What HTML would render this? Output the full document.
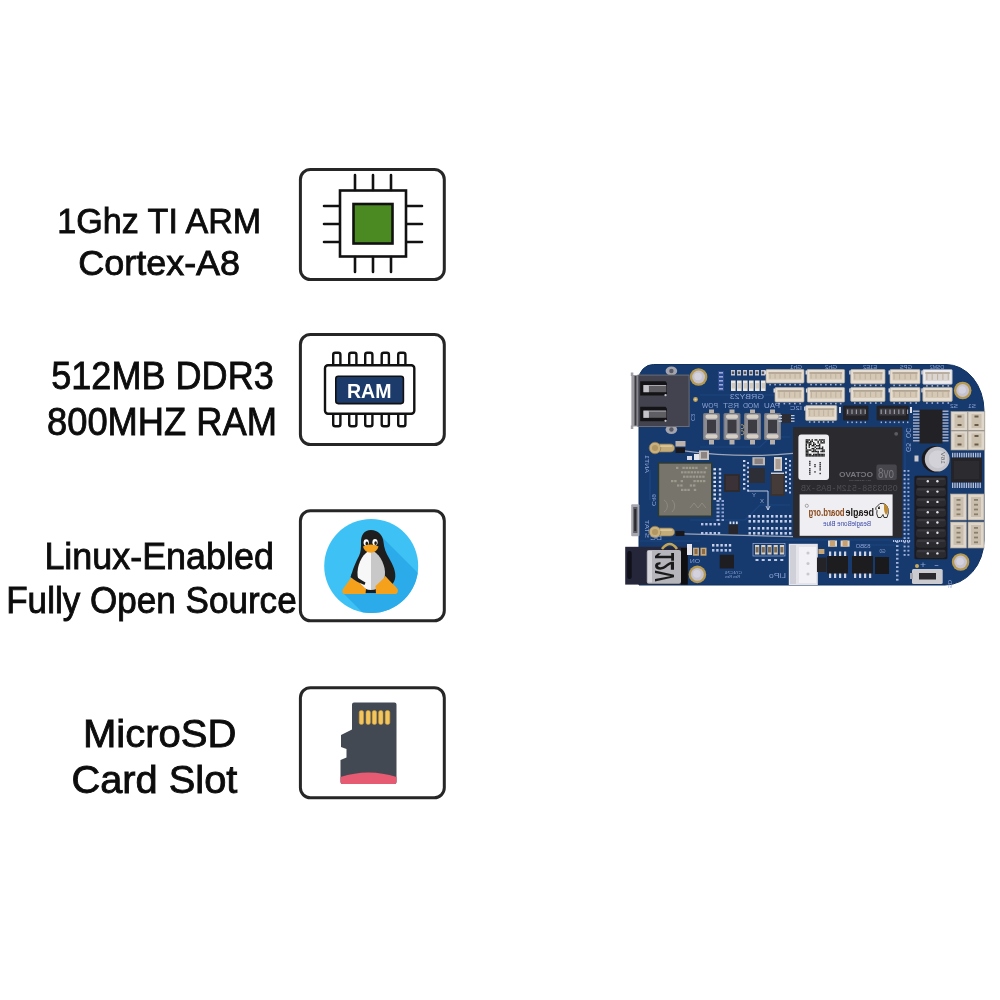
<!DOCTYPE html>
<html><head><meta charset="utf-8">
<style>
html,body{margin:0;padding:0;background:#fff;}
body{width:1000px;height:1000px;position:relative;overflow:hidden;}
svg{position:absolute;left:0;top:0;will-change:transform;}
</style></head><body>
<svg width="1000" height="1000" viewBox="0 0 1000 1000">
 <!-- feature text -->
 <g font-family="Liberation Sans" fill="#0c0c0c" stroke="#0c0c0c" stroke-width="0.85">
  <text transform="translate(57.3,233.1) scale(0.9480,1)" font-size="35.97">1Ghz TI ARM</text>
  <text transform="translate(78.2,274.6) scale(1.0000,1)" font-size="35.97">Cortex-A8</text>
  <text transform="translate(51.2,389.3) scale(0.9276,1)" font-size="38.91">512MB DDR3</text>
  <text transform="translate(47.0,435.2) scale(0.9408,1)" font-size="38.61">800MHZ RAM</text>
  <text transform="translate(44.4,569.3) scale(0.9847,1)" font-size="36.46">Linux-Enabled</text>
  <text transform="translate(6.2,613.4) scale(0.9622,1)" font-size="36.46">Fully Open Source</text>
  <text transform="translate(82.9,747.4) scale(1.0327,1)" font-size="38.81">MicroSD</text>
  <text transform="translate(71.5,793.3) scale(1.0255,1)" font-size="38.81">Card Slot</text>
 </g>
 <!-- boxes -->
 <g fill="none" stroke="#262626" stroke-width="3">
  <rect x="300.4" y="169.4" width="143.9" height="110.2" rx="10"/>
  <rect x="300.4" y="334.5" width="143.9" height="110.1" rx="10"/>
  <rect x="300.4" y="510.7" width="143.9" height="110.1" rx="10"/>
  <rect x="300.4" y="687.7" width="143.9" height="110.1" rx="10"/>
 </g>
 <!-- CPU icon -->
 <g stroke="#111" stroke-width="2.6" fill="none" stroke-linecap="round">
  <rect x="340" y="190.5" width="66" height="66" fill="#fff"/>
  <rect x="353.5" y="204" width="39" height="39.5" fill="#4b8a22"/>
  <path d="M355 175V190M373 175V190M391 175V190M355 257V272M373 257V272M391 257V272M324 206H339M324 224H339M324 242H339M407 206H422M407 224H422M407 242H422"/>
 </g>
 <!-- RAM icon -->
 <g stroke="#111" stroke-width="2.4" fill="#fff">
  <rect x="333.2" y="352.7" width="7.2" height="16" rx="2"/>
  <rect x="349.2" y="352.7" width="7.2" height="16" rx="2"/>
  <rect x="365.2" y="352.7" width="7.2" height="16" rx="2"/>
  <rect x="381.7" y="352.7" width="7.2" height="16" rx="2"/>
  <rect x="398.2" y="352.7" width="7.2" height="16" rx="2"/>
  <rect x="333.2" y="410" width="7.2" height="16.3" rx="2"/>
  <rect x="349.2" y="410" width="7.2" height="16.3" rx="2"/>
  <rect x="365.2" y="410" width="7.2" height="16.3" rx="2"/>
  <rect x="381.7" y="410" width="7.2" height="16.3" rx="2"/>
  <rect x="398.2" y="410" width="7.2" height="16.3" rx="2"/>
  <rect x="325" y="365.2" width="89.3" height="48.6" rx="3"/>
  <rect x="335.8" y="376.2" width="67.6" height="27.4" rx="2.5" fill="#1c3a6a" stroke-width="1.6"/>
 </g>
 <text x="347" y="397.6" font-family="Liberation Sans" font-weight="bold" font-size="20.5" fill="#fff" textLength="44.5" lengthAdjust="spacingAndGlyphs">RAM</text>

 <!-- Linux icon -->
 <defs><clipPath id="cc"><circle cx="371.2" cy="566" r="47"/></clipPath></defs>
 <circle cx="371.2" cy="566" r="47" fill="#3ec2f5"/>
 <path clip-path="url(#cc)" d="M380,535 L470,625 L434,684 L344,594 Z" fill="#2babea"/>
 <g>
  <path d="M371,530 C378,530 383,535 383.5,542 C384,548 386,553 389,558 C393,565 396.5,572 395,579 C393,586 386,592.5 376,593 L366,593 C356,592.5 350,586 351,578 C352,570 356,562 359,556 C361,552 361,547 361,542 C361,535 364,530 371,530 Z" fill="#1e1e1e"/>
  <path d="M371,550 C364,552 358,562 357.5,572 C357,583 363,590 371,590 Z" fill="#f7f7f7"/>
  <path d="M371,550 C378,552 384.5,562 385,572 C385.5,583 379,590 371,590 Z" fill="#c8c8c8"/>
  <ellipse cx="366.2" cy="542.6" rx="2.6" ry="3.4" fill="#fff"/>
  <ellipse cx="375" cy="542.3" rx="2.6" ry="3.4" fill="#fff"/>
  <ellipse cx="366.8" cy="543.4" rx="1.3" ry="1.9" fill="#1a1a1a"/>
  <ellipse cx="375.6" cy="543.1" rx="1.3" ry="1.9" fill="#1a1a1a"/>
  <path d="M363,546.5 Q370.5,542.5 378.5,546.5 Q377,552.5 370.5,552.8 Q364.5,552.5 363,546.5 Z" fill="#f5a11c"/>
  <path d="M353,575 C356,580 362,585 366,589 L365.5,594 L344.5,594 C342.5,594 341.8,591 343,589 Z" fill="#f5a11c"/>
  <path d="M385.5,576 C389,581 395,585 397.5,589 C398.5,591 397.5,594 395.5,594 L376,594 L375.5,586 C379,583 383,579 385.5,576 Z" fill="#f5a11c"/>
  <path d="M352,573 C356,577 361,580 365.5,582.5 L364.5,585 C359,583 354,580 350.5,577 Z" fill="#1e1e1e"/>
 </g>
 <!-- SD icon -->
 <path d="M354,702.5 L394.5,702.5 Q396.5,702.5 396.5,704.5 L396.5,782 Q396.5,784 394.5,784 L342.5,784 Q340.5,784 340.5,782 L340.5,760 L346.5,757.5 L346.5,749 L341,747 L341,735 L352,729.5 L352,704.5 Q352,702.5 354,702.5 Z" fill="#434953"/>
 <path d="M340.5,777 Q368.5,768 396.5,777 L396.5,782 Q396.5,784 394.5,784 L342.5,784 Q340.5,784 340.5,782 Z" fill="#e65b72"/>
 <g fill="#f2c55e" stroke="#c99a35" stroke-width="0.6">
  <rect x="359.2" y="710.5" width="4.4" height="14" rx="2"/>
  <rect x="366" y="710.5" width="4.4" height="14" rx="2"/>
  <rect x="372.2" y="710.5" width="4.4" height="14" rx="2"/>
  <rect x="378.6" y="710.5" width="4.4" height="14" rx="2"/>
  <rect x="385.2" y="710.5" width="4.6" height="14" rx="2"/>
 </g>
<g id="board">
<path d="M656,364.5 L946,364.5 A38 46 0 0 1 984,410.5 L984,540 A39 45 0 0 1 945,585 L639,585 L639,379 A14.5 14.5 0 0 1 653.5,364.5 Z" fill="#163a6e" stroke="#10305e" stroke-width="1"/>
<g fill="none" stroke="#1f4a86" stroke-width="1.2" opacity="0.8">
<path d="M700,395 H790 M700,447 L760,447 L770,437 H790 M690,520 H745 L760,505 H790 M720,500 V515 M650,470 V500 M860,545 H905 M905,430 V540 M770,540 H900 M640,541 H700"/>
</g>
<circle cx="698.60" cy="377.00" r="8.80" fill="#b79a52"/>
<circle cx="698.60" cy="377.00" r="6.40" fill="#c6c3cf"/>
<circle cx="698.10" cy="376.50" r="3.80" fill="#d4d2dc"/>
<circle cx="962.70" cy="390.50" r="8.80" fill="#b79a52"/>
<circle cx="962.70" cy="390.50" r="6.40" fill="#c6c3cf"/>
<circle cx="962.20" cy="390.00" r="3.80" fill="#d4d2dc"/>
<circle cx="697.40" cy="574.40" r="8.80" fill="#b79a52"/>
<circle cx="697.40" cy="574.40" r="6.40" fill="#c6c3cf"/>
<circle cx="696.90" cy="573.90" r="3.80" fill="#d4d2dc"/>
<circle cx="960.60" cy="562.00" r="8.80" fill="#b79a52"/>
<circle cx="960.60" cy="562.00" r="6.40" fill="#c6c3cf"/>
<circle cx="960.10" cy="561.50" r="3.80" fill="#d4d2dc"/>
<ellipse cx="671.4" cy="371" rx="5.8" ry="4.5" fill="#a4a4ae"/>
<ellipse cx="671.4" cy="429.5" rx="5.8" ry="4.5" fill="#a4a4ae"/>
<circle cx="671.40" cy="371.00" r="2.20" fill="#5a5a66"/>
<circle cx="671.40" cy="429.50" r="2.20" fill="#5a5a66"/>
<rect x="630.80" y="372.50" width="2.50" height="3.50" fill="#a0a0a8"/>
<rect x="630.80" y="425.50" width="2.50" height="3.50" fill="#a0a0a8"/>
<rect x="631.40" y="375.00" width="7.00" height="51.50" fill="#9a9aa0"/>
<rect x="634.50" y="376.00" width="2.00" height="49.50" fill="#3a3a40"/>
<rect x="637.60" y="374.60" width="52.00" height="52.40" fill="#6c6c72"/>
<rect x="638.60" y="375.60" width="50.00" height="50.40" fill="#42434e"/>
<path d="M640.2,381.2 H665.5 L667,383.2 V393.6 L665.5,395.6 H640.2 Z" fill="#141416"/>
<rect x="643.40" y="385.00" width="23.00" height="7.20" fill="#5e5e63"/>
<rect x="649.00" y="385.00" width="17.00" height="1.00" fill="#a8a8ae"/>
<rect x="643.40" y="385.00" width="5.50" height="7.20" fill="#c4c4ca"/>
<circle cx="665.50" cy="395.20" r="1.10" fill="#c8c8cc"/>
<path d="M640.2,406.8 H665.5 L667,408.8 V419.2 L665.5,421.2 H640.2 Z" fill="#141416"/>
<rect x="643.40" y="410.60" width="23.00" height="7.20" fill="#5e5e63"/>
<rect x="649.00" y="410.60" width="17.00" height="1.00" fill="#a8a8ae"/>
<rect x="643.40" y="410.60" width="5.50" height="7.20" fill="#c4c4ca"/>
<circle cx="665.50" cy="420.80" r="1.10" fill="#c8c8cc"/>
<circle cx="695.50" cy="399.50" r="2.40" fill="#c2a25a"/>
<circle cx="695.50" cy="399.50" r="1.10" fill="#e0d0a0"/>
<text transform="translate(691.00,414.00) rotate(90) scale(-1,1)" x="-7.00" y="0" font-family="Liberation Sans" font-weight="normal" font-size="6.00" fill="#8fa3d4" textLength="7.0" lengthAdjust="spacingAndGlyphs">C3</text>
<rect x="731.00" y="370.00" width="4.00" height="5.50" fill="#c9c9d2"/>
<rect x="731.80" y="371.50" width="2.40" height="2.50" fill="#53535c"/>
<rect x="731.00" y="380.50" width="4.60" height="10.50" fill="#ebe6de"/>
<rect x="731.50" y="383.00" width="3.60" height="5.50" fill="#d2cabe"/>
<rect x="737.00" y="370.00" width="4.00" height="5.50" fill="#c9c9d2"/>
<rect x="737.80" y="371.50" width="2.40" height="2.50" fill="#53535c"/>
<rect x="737.00" y="380.50" width="4.60" height="10.50" fill="#ebe6de"/>
<rect x="737.50" y="383.00" width="3.60" height="5.50" fill="#d2cabe"/>
<rect x="743.00" y="370.00" width="4.00" height="5.50" fill="#c9c9d2"/>
<rect x="743.80" y="371.50" width="2.40" height="2.50" fill="#53535c"/>
<rect x="743.00" y="380.50" width="4.60" height="10.50" fill="#ebe6de"/>
<rect x="743.50" y="383.00" width="3.60" height="5.50" fill="#d2cabe"/>
<rect x="749.00" y="370.00" width="4.00" height="5.50" fill="#c9c9d2"/>
<rect x="749.80" y="371.50" width="2.40" height="2.50" fill="#53535c"/>
<rect x="749.00" y="380.50" width="4.60" height="10.50" fill="#ebe6de"/>
<rect x="749.50" y="383.00" width="3.60" height="5.50" fill="#d2cabe"/>
<rect x="755.00" y="370.00" width="4.00" height="5.50" fill="#c9c9d2"/>
<rect x="755.80" y="371.50" width="2.40" height="2.50" fill="#53535c"/>
<rect x="755.00" y="380.50" width="4.60" height="10.50" fill="#ebe6de"/>
<rect x="755.50" y="383.00" width="3.60" height="5.50" fill="#d2cabe"/>
<rect x="761.00" y="370.00" width="4.00" height="5.50" fill="#c9c9d2"/>
<rect x="761.80" y="371.50" width="2.40" height="2.50" fill="#53535c"/>
<rect x="761.00" y="380.50" width="4.60" height="10.50" fill="#ebe6de"/>
<rect x="761.50" y="383.00" width="3.60" height="5.50" fill="#d2cabe"/>
<text transform="translate(730.00,399.00) rotate(0) scale(-1,1)" x="-34.00" y="0" font-family="Liberation Sans" font-weight="normal" font-size="6.50" fill="#8fa3d4" textLength="34.0" lengthAdjust="spacingAndGlyphs">GRBY23</text>
<rect x="718.00" y="371.00" width="6.00" height="20.00" fill="#2f4f95" opacity="0.80"/>
<rect x="719.00" y="372.00" width="4.00" height="1.60" fill="#9aaad6"/>
<rect x="719.00" y="376.00" width="4.00" height="1.60" fill="#9aaad6"/>
<rect x="719.00" y="380.00" width="4.00" height="1.60" fill="#9aaad6"/>
<rect x="719.00" y="384.00" width="4.00" height="1.60" fill="#9aaad6"/>
<rect x="719.00" y="388.00" width="4.00" height="1.60" fill="#9aaad6"/>
<text transform="translate(702.00,408.00) rotate(0) scale(-1,1)" x="-16.00" y="0" font-family="Liberation Sans" font-weight="normal" font-size="6.50" fill="#8fa3d4" textLength="16.0" lengthAdjust="spacingAndGlyphs">POW</text>
<text transform="translate(723.00,408.00) rotate(0) scale(-1,1)" x="-16.00" y="0" font-family="Liberation Sans" font-weight="normal" font-size="6.50" fill="#8fa3d4" textLength="16.0" lengthAdjust="spacingAndGlyphs">RST</text>
<text transform="translate(743.00,408.00) rotate(0) scale(-1,1)" x="-16.00" y="0" font-family="Liberation Sans" font-weight="normal" font-size="6.50" fill="#8fa3d4" textLength="16.0" lengthAdjust="spacingAndGlyphs">MOD</text>
<text transform="translate(764.00,408.00) rotate(0) scale(-1,1)" x="-16.00" y="0" font-family="Liberation Sans" font-weight="normal" font-size="6.50" fill="#8fa3d4" textLength="16.0" lengthAdjust="spacingAndGlyphs">PAU</text>
<rect x="709.00" y="409.50" width="5.00" height="4.00" fill="#b6b0ac"/>
<rect x="709.00" y="440.00" width="5.00" height="4.50" fill="#b6b0ac"/>
<rect x="703.00" y="413.00" width="17.00" height="27.00" fill="#77777f" rx="1.50"/>
<rect x="704.20" y="414.20" width="14.60" height="24.60" fill="#8c8c94" rx="1.00"/>
<rect x="707.00" y="420.00" width="9.00" height="13.00" fill="#3c3c42"/>
<rect x="705.50" y="414.50" width="12.00" height="4.20" fill="#d6cfc6" rx="2.00"/>
<rect x="705.50" y="434.30" width="12.00" height="4.20" fill="#d6cfc6" rx="2.00"/>
<rect x="729.50" y="409.50" width="5.00" height="4.00" fill="#b6b0ac"/>
<rect x="729.50" y="440.00" width="5.00" height="4.50" fill="#b6b0ac"/>
<rect x="723.50" y="413.00" width="17.00" height="27.00" fill="#77777f" rx="1.50"/>
<rect x="724.70" y="414.20" width="14.60" height="24.60" fill="#8c8c94" rx="1.00"/>
<rect x="727.50" y="420.00" width="9.00" height="13.00" fill="#3c3c42"/>
<rect x="726.00" y="414.50" width="12.00" height="4.20" fill="#d6cfc6" rx="2.00"/>
<rect x="726.00" y="434.30" width="12.00" height="4.20" fill="#d6cfc6" rx="2.00"/>
<rect x="750.00" y="409.50" width="5.00" height="4.00" fill="#b6b0ac"/>
<rect x="750.00" y="440.00" width="5.00" height="4.50" fill="#b6b0ac"/>
<rect x="744.00" y="413.00" width="17.00" height="27.00" fill="#77777f" rx="1.50"/>
<rect x="745.20" y="414.20" width="14.60" height="24.60" fill="#8c8c94" rx="1.00"/>
<rect x="748.00" y="420.00" width="9.00" height="13.00" fill="#3c3c42"/>
<rect x="746.50" y="414.50" width="12.00" height="4.20" fill="#d6cfc6" rx="2.00"/>
<rect x="746.50" y="434.30" width="12.00" height="4.20" fill="#d6cfc6" rx="2.00"/>
<rect x="770.00" y="409.50" width="5.00" height="4.00" fill="#b6b0ac"/>
<rect x="770.00" y="440.00" width="5.00" height="4.50" fill="#b6b0ac"/>
<rect x="764.00" y="413.00" width="17.00" height="27.00" fill="#77777f" rx="1.50"/>
<rect x="765.20" y="414.20" width="14.60" height="24.60" fill="#8c8c94" rx="1.00"/>
<rect x="768.00" y="420.00" width="9.00" height="13.00" fill="#3c3c42"/>
<rect x="766.50" y="414.50" width="12.00" height="4.20" fill="#d6cfc6" rx="2.00"/>
<rect x="766.50" y="434.30" width="12.00" height="4.20" fill="#d6cfc6" rx="2.00"/>
<path d="M741,425 a2,2 0 1 1 0,3.5 M741,431 a2,2 0 1 1 0,3.5" stroke="#c9a45a" stroke-width="0.9" fill="none"/>
<rect x="766.00" y="369.50" width="38.00" height="13.50" fill="#e6ded2" rx="1.00" stroke="#b5aa98" stroke-width="0.70"/>
<rect x="768.50" y="372.30" width="33.00" height="7.30" fill="#d5c8b5"/>
<rect x="768.50" y="372.30" width="33.00" height="1.40" fill="#a89c8a"/>
<rect x="769.50" y="374.10" width="1.10" height="4.50" fill="#bfb3a0"/>
<rect x="774.50" y="374.10" width="1.10" height="4.50" fill="#bfb3a0"/>
<rect x="779.50" y="374.10" width="1.10" height="4.50" fill="#bfb3a0"/>
<rect x="784.50" y="374.10" width="1.10" height="4.50" fill="#bfb3a0"/>
<rect x="789.50" y="374.10" width="1.10" height="4.50" fill="#bfb3a0"/>
<rect x="794.50" y="374.10" width="1.10" height="4.50" fill="#bfb3a0"/>
<rect x="799.50" y="374.10" width="1.10" height="4.50" fill="#bfb3a0"/>
<rect x="769.30" y="383.80" width="1.60" height="1.60" fill="#a9b6dc"/>
<rect x="774.30" y="383.80" width="1.60" height="1.60" fill="#a9b6dc"/>
<rect x="779.30" y="383.80" width="1.60" height="1.60" fill="#a9b6dc"/>
<rect x="784.30" y="383.80" width="1.60" height="1.60" fill="#a9b6dc"/>
<rect x="789.30" y="383.80" width="1.60" height="1.60" fill="#a9b6dc"/>
<rect x="794.30" y="383.80" width="1.60" height="1.60" fill="#a9b6dc"/>
<rect x="799.30" y="383.80" width="1.60" height="1.60" fill="#a9b6dc"/>
<rect x="764.50" y="370.50" width="1.50" height="4.00" fill="#d8d8e0"/>
<rect x="807.00" y="369.50" width="37.60" height="13.50" fill="#e6ded2" rx="1.00" stroke="#b5aa98" stroke-width="0.70"/>
<rect x="809.50" y="372.30" width="32.60" height="7.30" fill="#d5c8b5"/>
<rect x="809.50" y="372.30" width="32.60" height="1.40" fill="#a89c8a"/>
<rect x="810.50" y="374.10" width="1.10" height="4.50" fill="#bfb3a0"/>
<rect x="815.43" y="374.10" width="1.10" height="4.50" fill="#bfb3a0"/>
<rect x="820.37" y="374.10" width="1.10" height="4.50" fill="#bfb3a0"/>
<rect x="825.30" y="374.10" width="1.10" height="4.50" fill="#bfb3a0"/>
<rect x="830.23" y="374.10" width="1.10" height="4.50" fill="#bfb3a0"/>
<rect x="835.17" y="374.10" width="1.10" height="4.50" fill="#bfb3a0"/>
<rect x="840.10" y="374.10" width="1.10" height="4.50" fill="#bfb3a0"/>
<rect x="810.30" y="383.80" width="1.60" height="1.60" fill="#a9b6dc"/>
<rect x="815.23" y="383.80" width="1.60" height="1.60" fill="#a9b6dc"/>
<rect x="820.17" y="383.80" width="1.60" height="1.60" fill="#a9b6dc"/>
<rect x="825.10" y="383.80" width="1.60" height="1.60" fill="#a9b6dc"/>
<rect x="830.03" y="383.80" width="1.60" height="1.60" fill="#a9b6dc"/>
<rect x="834.97" y="383.80" width="1.60" height="1.60" fill="#a9b6dc"/>
<rect x="839.90" y="383.80" width="1.60" height="1.60" fill="#a9b6dc"/>
<rect x="805.50" y="370.50" width="1.50" height="4.00" fill="#d8d8e0"/>
<rect x="850.70" y="369.50" width="34.30" height="14.30" fill="#e6ded2" rx="1.00" stroke="#b5aa98" stroke-width="0.70"/>
<rect x="853.20" y="372.30" width="29.30" height="8.10" fill="#d5c8b5"/>
<rect x="853.20" y="372.30" width="29.30" height="1.40" fill="#a89c8a"/>
<rect x="854.20" y="374.10" width="1.10" height="5.30" fill="#bfb3a0"/>
<rect x="859.46" y="374.10" width="1.10" height="5.30" fill="#bfb3a0"/>
<rect x="864.72" y="374.10" width="1.10" height="5.30" fill="#bfb3a0"/>
<rect x="869.98" y="374.10" width="1.10" height="5.30" fill="#bfb3a0"/>
<rect x="875.24" y="374.10" width="1.10" height="5.30" fill="#bfb3a0"/>
<rect x="880.50" y="374.10" width="1.10" height="5.30" fill="#bfb3a0"/>
<rect x="854.00" y="384.60" width="1.60" height="1.60" fill="#a9b6dc"/>
<rect x="859.26" y="384.60" width="1.60" height="1.60" fill="#a9b6dc"/>
<rect x="864.52" y="384.60" width="1.60" height="1.60" fill="#a9b6dc"/>
<rect x="869.78" y="384.60" width="1.60" height="1.60" fill="#a9b6dc"/>
<rect x="875.04" y="384.60" width="1.60" height="1.60" fill="#a9b6dc"/>
<rect x="880.30" y="384.60" width="1.60" height="1.60" fill="#a9b6dc"/>
<rect x="849.20" y="370.50" width="1.50" height="4.00" fill="#d8d8e0"/>
<rect x="890.00" y="369.50" width="30.00" height="14.30" fill="#e6ded2" rx="1.00" stroke="#b5aa98" stroke-width="0.70"/>
<rect x="892.50" y="372.30" width="25.00" height="8.10" fill="#d5c8b5"/>
<rect x="892.50" y="372.30" width="25.00" height="1.40" fill="#a89c8a"/>
<rect x="893.50" y="374.10" width="1.10" height="5.30" fill="#bfb3a0"/>
<rect x="899.00" y="374.10" width="1.10" height="5.30" fill="#bfb3a0"/>
<rect x="904.50" y="374.10" width="1.10" height="5.30" fill="#bfb3a0"/>
<rect x="910.00" y="374.10" width="1.10" height="5.30" fill="#bfb3a0"/>
<rect x="915.50" y="374.10" width="1.10" height="5.30" fill="#bfb3a0"/>
<rect x="893.30" y="384.60" width="1.60" height="1.60" fill="#a9b6dc"/>
<rect x="898.80" y="384.60" width="1.60" height="1.60" fill="#a9b6dc"/>
<rect x="904.30" y="384.60" width="1.60" height="1.60" fill="#a9b6dc"/>
<rect x="909.80" y="384.60" width="1.60" height="1.60" fill="#a9b6dc"/>
<rect x="915.30" y="384.60" width="1.60" height="1.60" fill="#a9b6dc"/>
<rect x="888.50" y="370.50" width="1.50" height="4.00" fill="#d8d8e0"/>
<rect x="922.80" y="369.50" width="29.40" height="14.80" fill="#ecebee" rx="1.00" stroke="#a8a8b2" stroke-width="0.70"/>
<rect x="925.30" y="372.30" width="24.40" height="8.60" fill="#dcd6d2"/>
<rect x="925.30" y="372.30" width="24.40" height="1.40" fill="#a89c8a"/>
<rect x="926.30" y="374.10" width="1.10" height="5.80" fill="#bfb3a0"/>
<rect x="931.65" y="374.10" width="1.10" height="5.80" fill="#bfb3a0"/>
<rect x="937.00" y="374.10" width="1.10" height="5.80" fill="#bfb3a0"/>
<rect x="942.35" y="374.10" width="1.10" height="5.80" fill="#bfb3a0"/>
<rect x="947.70" y="374.10" width="1.10" height="5.80" fill="#bfb3a0"/>
<rect x="926.10" y="385.10" width="1.60" height="1.60" fill="#a9b6dc"/>
<rect x="931.45" y="385.10" width="1.60" height="1.60" fill="#a9b6dc"/>
<rect x="936.80" y="385.10" width="1.60" height="1.60" fill="#a9b6dc"/>
<rect x="942.15" y="385.10" width="1.60" height="1.60" fill="#a9b6dc"/>
<rect x="947.50" y="385.10" width="1.60" height="1.60" fill="#a9b6dc"/>
<rect x="921.30" y="370.50" width="1.50" height="4.00" fill="#d8d8e0"/>
<rect x="775.00" y="387.50" width="29.00" height="14.50" fill="#e6ded2" rx="1.00" stroke="#b5aa98" stroke-width="0.70"/>
<rect x="777.50" y="390.30" width="24.00" height="8.30" fill="#d5c8b5"/>
<rect x="777.50" y="390.30" width="24.00" height="1.40" fill="#a89c8a"/>
<rect x="778.50" y="392.10" width="1.10" height="5.50" fill="#bfb3a0"/>
<rect x="783.75" y="392.10" width="1.10" height="5.50" fill="#bfb3a0"/>
<rect x="789.00" y="392.10" width="1.10" height="5.50" fill="#bfb3a0"/>
<rect x="794.25" y="392.10" width="1.10" height="5.50" fill="#bfb3a0"/>
<rect x="799.50" y="392.10" width="1.10" height="5.50" fill="#bfb3a0"/>
<rect x="778.30" y="402.80" width="1.60" height="1.60" fill="#a9b6dc"/>
<rect x="783.55" y="402.80" width="1.60" height="1.60" fill="#a9b6dc"/>
<rect x="788.80" y="402.80" width="1.60" height="1.60" fill="#a9b6dc"/>
<rect x="794.05" y="402.80" width="1.60" height="1.60" fill="#a9b6dc"/>
<rect x="799.30" y="402.80" width="1.60" height="1.60" fill="#a9b6dc"/>
<rect x="773.50" y="388.50" width="1.50" height="4.00" fill="#d8d8e0"/>
<rect x="807.40" y="387.50" width="37.20" height="14.50" fill="#e6ded2" rx="1.00" stroke="#b5aa98" stroke-width="0.70"/>
<rect x="809.90" y="390.30" width="32.20" height="8.30" fill="#d5c8b5"/>
<rect x="809.90" y="390.30" width="32.20" height="1.40" fill="#a89c8a"/>
<rect x="810.90" y="392.10" width="1.10" height="5.50" fill="#bfb3a0"/>
<rect x="815.77" y="392.10" width="1.10" height="5.50" fill="#bfb3a0"/>
<rect x="820.63" y="392.10" width="1.10" height="5.50" fill="#bfb3a0"/>
<rect x="825.50" y="392.10" width="1.10" height="5.50" fill="#bfb3a0"/>
<rect x="830.37" y="392.10" width="1.10" height="5.50" fill="#bfb3a0"/>
<rect x="835.23" y="392.10" width="1.10" height="5.50" fill="#bfb3a0"/>
<rect x="840.10" y="392.10" width="1.10" height="5.50" fill="#bfb3a0"/>
<rect x="810.70" y="402.80" width="1.60" height="1.60" fill="#a9b6dc"/>
<rect x="815.57" y="402.80" width="1.60" height="1.60" fill="#a9b6dc"/>
<rect x="820.43" y="402.80" width="1.60" height="1.60" fill="#a9b6dc"/>
<rect x="825.30" y="402.80" width="1.60" height="1.60" fill="#a9b6dc"/>
<rect x="830.17" y="402.80" width="1.60" height="1.60" fill="#a9b6dc"/>
<rect x="835.03" y="402.80" width="1.60" height="1.60" fill="#a9b6dc"/>
<rect x="839.90" y="402.80" width="1.60" height="1.60" fill="#a9b6dc"/>
<rect x="805.90" y="388.50" width="1.50" height="4.00" fill="#d8d8e0"/>
<rect x="850.70" y="387.40" width="34.30" height="14.00" fill="#e6ded2" rx="1.00" stroke="#b5aa98" stroke-width="0.70"/>
<rect x="853.20" y="390.20" width="29.30" height="7.80" fill="#d5c8b5"/>
<rect x="853.20" y="390.20" width="29.30" height="1.40" fill="#a89c8a"/>
<rect x="854.20" y="392.00" width="1.10" height="5.00" fill="#bfb3a0"/>
<rect x="859.46" y="392.00" width="1.10" height="5.00" fill="#bfb3a0"/>
<rect x="864.72" y="392.00" width="1.10" height="5.00" fill="#bfb3a0"/>
<rect x="869.98" y="392.00" width="1.10" height="5.00" fill="#bfb3a0"/>
<rect x="875.24" y="392.00" width="1.10" height="5.00" fill="#bfb3a0"/>
<rect x="880.50" y="392.00" width="1.10" height="5.00" fill="#bfb3a0"/>
<rect x="854.00" y="402.20" width="1.60" height="1.60" fill="#a9b6dc"/>
<rect x="859.26" y="402.20" width="1.60" height="1.60" fill="#a9b6dc"/>
<rect x="864.52" y="402.20" width="1.60" height="1.60" fill="#a9b6dc"/>
<rect x="869.78" y="402.20" width="1.60" height="1.60" fill="#a9b6dc"/>
<rect x="875.04" y="402.20" width="1.60" height="1.60" fill="#a9b6dc"/>
<rect x="880.30" y="402.20" width="1.60" height="1.60" fill="#a9b6dc"/>
<rect x="849.20" y="388.40" width="1.50" height="4.00" fill="#d8d8e0"/>
<rect x="890.00" y="387.40" width="30.00" height="14.00" fill="#e6ded2" rx="1.00" stroke="#b5aa98" stroke-width="0.70"/>
<rect x="892.50" y="390.20" width="25.00" height="7.80" fill="#d5c8b5"/>
<rect x="892.50" y="390.20" width="25.00" height="1.40" fill="#a89c8a"/>
<rect x="893.50" y="392.00" width="1.10" height="5.00" fill="#bfb3a0"/>
<rect x="899.00" y="392.00" width="1.10" height="5.00" fill="#bfb3a0"/>
<rect x="904.50" y="392.00" width="1.10" height="5.00" fill="#bfb3a0"/>
<rect x="910.00" y="392.00" width="1.10" height="5.00" fill="#bfb3a0"/>
<rect x="915.50" y="392.00" width="1.10" height="5.00" fill="#bfb3a0"/>
<rect x="893.30" y="402.20" width="1.60" height="1.60" fill="#a9b6dc"/>
<rect x="898.80" y="402.20" width="1.60" height="1.60" fill="#a9b6dc"/>
<rect x="904.30" y="402.20" width="1.60" height="1.60" fill="#a9b6dc"/>
<rect x="909.80" y="402.20" width="1.60" height="1.60" fill="#a9b6dc"/>
<rect x="915.30" y="402.20" width="1.60" height="1.60" fill="#a9b6dc"/>
<rect x="888.50" y="388.40" width="1.50" height="4.00" fill="#d8d8e0"/>
<rect x="922.80" y="387.40" width="29.40" height="14.00" fill="#e6ded2" rx="1.00" stroke="#b5aa98" stroke-width="0.70"/>
<rect x="925.30" y="390.20" width="24.40" height="7.80" fill="#d5c8b5"/>
<rect x="925.30" y="390.20" width="24.40" height="1.40" fill="#a89c8a"/>
<rect x="926.30" y="392.00" width="1.10" height="5.00" fill="#bfb3a0"/>
<rect x="931.65" y="392.00" width="1.10" height="5.00" fill="#bfb3a0"/>
<rect x="937.00" y="392.00" width="1.10" height="5.00" fill="#bfb3a0"/>
<rect x="942.35" y="392.00" width="1.10" height="5.00" fill="#bfb3a0"/>
<rect x="947.70" y="392.00" width="1.10" height="5.00" fill="#bfb3a0"/>
<rect x="926.10" y="402.20" width="1.60" height="1.60" fill="#a9b6dc"/>
<rect x="931.45" y="402.20" width="1.60" height="1.60" fill="#a9b6dc"/>
<rect x="936.80" y="402.20" width="1.60" height="1.60" fill="#a9b6dc"/>
<rect x="942.15" y="402.20" width="1.60" height="1.60" fill="#a9b6dc"/>
<rect x="947.50" y="402.20" width="1.60" height="1.60" fill="#a9b6dc"/>
<rect x="921.30" y="388.40" width="1.50" height="4.00" fill="#d8d8e0"/>
<rect x="805.60" y="405.60" width="31.20" height="14.80" fill="#e6ded2" rx="1.00" stroke="#b5aa98" stroke-width="0.70"/>
<rect x="808.10" y="408.40" width="26.20" height="8.60" fill="#d5c8b5"/>
<rect x="808.10" y="408.40" width="26.20" height="1.40" fill="#a89c8a"/>
<rect x="809.10" y="410.20" width="1.10" height="5.80" fill="#bfb3a0"/>
<rect x="813.74" y="410.20" width="1.10" height="5.80" fill="#bfb3a0"/>
<rect x="818.38" y="410.20" width="1.10" height="5.80" fill="#bfb3a0"/>
<rect x="823.02" y="410.20" width="1.10" height="5.80" fill="#bfb3a0"/>
<rect x="827.66" y="410.20" width="1.10" height="5.80" fill="#bfb3a0"/>
<rect x="832.30" y="410.20" width="1.10" height="5.80" fill="#bfb3a0"/>
<rect x="808.90" y="421.20" width="1.60" height="1.60" fill="#a9b6dc"/>
<rect x="813.54" y="421.20" width="1.60" height="1.60" fill="#a9b6dc"/>
<rect x="818.18" y="421.20" width="1.60" height="1.60" fill="#a9b6dc"/>
<rect x="822.82" y="421.20" width="1.60" height="1.60" fill="#a9b6dc"/>
<rect x="827.46" y="421.20" width="1.60" height="1.60" fill="#a9b6dc"/>
<rect x="832.10" y="421.20" width="1.60" height="1.60" fill="#a9b6dc"/>
<rect x="804.10" y="406.60" width="1.50" height="4.00" fill="#d8d8e0"/>
<text transform="translate(790.00,368.50) rotate(0) scale(-1,1)" x="-12.00" y="0" font-family="Liberation Sans" font-weight="normal" font-size="5.50" fill="#8fa3d4" textLength="12.0" lengthAdjust="spacingAndGlyphs">Gh1</text>
<text transform="translate(825.00,368.50) rotate(0) scale(-1,1)" x="-12.00" y="0" font-family="Liberation Sans" font-weight="normal" font-size="5.50" fill="#8fa3d4" textLength="12.0" lengthAdjust="spacingAndGlyphs">Gh2</text>
<text transform="translate(863.00,368.50) rotate(0) scale(-1,1)" x="-14.00" y="0" font-family="Liberation Sans" font-weight="normal" font-size="5.50" fill="#8fa3d4" textLength="14.0" lengthAdjust="spacingAndGlyphs">E1E2</text>
<text transform="translate(900.00,368.50) rotate(0) scale(-1,1)" x="-12.00" y="0" font-family="Liberation Sans" font-weight="normal" font-size="5.50" fill="#8fa3d4" textLength="12.0" lengthAdjust="spacingAndGlyphs">GPS</text>
<text transform="translate(930.00,368.50) rotate(0) scale(-1,1)" x="-14.00" y="0" font-family="Liberation Sans" font-weight="normal" font-size="5.50" fill="#8fa3d4" textLength="14.0" lengthAdjust="spacingAndGlyphs">DSM2</text>
<rect x="843.00" y="405.50" width="25.50" height="15.00" fill="#232327" rx="1.00"/>
<rect x="846.00" y="408.50" width="19.50" height="7.00" fill="#3c3c42"/>
<rect x="847.00" y="409.50" width="1.20" height="4.50" fill="#9a9aa4"/>
<rect x="851.40" y="409.50" width="1.20" height="4.50" fill="#9a9aa4"/>
<rect x="855.80" y="409.50" width="1.20" height="4.50" fill="#9a9aa4"/>
<rect x="860.20" y="409.50" width="1.20" height="4.50" fill="#9a9aa4"/>
<rect x="864.60" y="409.50" width="1.20" height="4.50" fill="#9a9aa4"/>
<rect x="847.00" y="421.50" width="1.40" height="1.60" fill="#a9b6dc"/>
<rect x="851.40" y="421.50" width="1.40" height="1.60" fill="#a9b6dc"/>
<rect x="855.80" y="421.50" width="1.40" height="1.60" fill="#a9b6dc"/>
<rect x="860.20" y="421.50" width="1.40" height="1.60" fill="#a9b6dc"/>
<rect x="864.60" y="421.50" width="1.40" height="1.60" fill="#a9b6dc"/>
<rect x="876.60" y="405.50" width="32.20" height="15.00" fill="#232327" rx="1.00"/>
<rect x="879.60" y="408.50" width="26.20" height="7.00" fill="#3c3c42"/>
<rect x="880.60" y="409.50" width="1.20" height="4.50" fill="#9a9aa4"/>
<rect x="885.00" y="409.50" width="1.20" height="4.50" fill="#9a9aa4"/>
<rect x="889.40" y="409.50" width="1.20" height="4.50" fill="#9a9aa4"/>
<rect x="893.80" y="409.50" width="1.20" height="4.50" fill="#9a9aa4"/>
<rect x="898.20" y="409.50" width="1.20" height="4.50" fill="#9a9aa4"/>
<rect x="902.60" y="409.50" width="1.20" height="4.50" fill="#9a9aa4"/>
<rect x="907.00" y="409.50" width="1.20" height="4.50" fill="#9a9aa4"/>
<rect x="880.60" y="421.50" width="1.40" height="1.60" fill="#a9b6dc"/>
<rect x="885.00" y="421.50" width="1.40" height="1.60" fill="#a9b6dc"/>
<rect x="889.40" y="421.50" width="1.40" height="1.60" fill="#a9b6dc"/>
<rect x="893.80" y="421.50" width="1.40" height="1.60" fill="#a9b6dc"/>
<rect x="898.20" y="421.50" width="1.40" height="1.60" fill="#a9b6dc"/>
<rect x="902.60" y="421.50" width="1.40" height="1.60" fill="#a9b6dc"/>
<rect x="907.00" y="421.50" width="1.40" height="1.60" fill="#a9b6dc"/>
<rect x="839.00" y="407.00" width="2.00" height="6.00" fill="#e0e0e6"/>
<rect x="910.00" y="407.00" width="2.00" height="6.00" fill="#e0e0e6"/>
<rect x="782.00" y="414.00" width="9.00" height="9.00" fill="#2c2c34"/>
<rect x="778.50" y="415.00" width="3.50" height="1.20" fill="#c8ccd8"/>
<rect x="791.00" y="415.00" width="3.50" height="1.20" fill="#c8ccd8"/>
<rect x="778.50" y="417.80" width="3.50" height="1.20" fill="#c8ccd8"/>
<rect x="791.00" y="417.80" width="3.50" height="1.20" fill="#c8ccd8"/>
<rect x="778.50" y="420.60" width="3.50" height="1.20" fill="#c8ccd8"/>
<rect x="791.00" y="420.60" width="3.50" height="1.20" fill="#c8ccd8"/>
<text transform="translate(790.00,410.00) rotate(0) scale(-1,1)" x="-12.00" y="0" font-family="Liberation Sans" font-weight="normal" font-size="6.00" fill="#8fa3d4" textLength="12.0" lengthAdjust="spacingAndGlyphs">I2C</text>
<text transform="translate(800.00,428.00) rotate(90) scale(-1,1)" x="-14.00" y="0" font-family="Liberation Sans" font-weight="normal" font-size="6.00" fill="#8fa3d4" textLength="14.0" lengthAdjust="spacingAndGlyphs">CAN</text>
<rect x="951.00" y="411.50" width="16.80" height="19.00" fill="#dfd7cb" stroke="#a39a8e" stroke-width="0.70"/>
<rect x="954.50" y="414.00" width="10.00" height="14.00" fill="#cbbfae"/>
<rect x="957.50" y="415.50" width="4.00" height="2.00" fill="#6a5a48"/>
<rect x="957.50" y="424.00" width="4.00" height="2.00" fill="#6a5a48"/>
<rect x="951.00" y="431.00" width="16.80" height="19.00" fill="#dfd7cb" stroke="#a39a8e" stroke-width="0.70"/>
<rect x="954.50" y="433.50" width="10.00" height="14.00" fill="#cbbfae"/>
<rect x="957.50" y="435.00" width="4.00" height="2.00" fill="#6a5a48"/>
<rect x="957.50" y="443.50" width="4.00" height="2.00" fill="#6a5a48"/>
<rect x="968.00" y="411.50" width="16.80" height="19.00" fill="#dfd7cb" stroke="#a39a8e" stroke-width="0.70"/>
<rect x="971.50" y="414.00" width="10.00" height="14.00" fill="#cbbfae"/>
<rect x="974.50" y="415.50" width="4.00" height="2.00" fill="#6a5a48"/>
<rect x="974.50" y="424.00" width="4.00" height="2.00" fill="#6a5a48"/>
<rect x="968.00" y="431.00" width="16.80" height="19.00" fill="#dfd7cb" stroke="#a39a8e" stroke-width="0.70"/>
<rect x="971.50" y="433.50" width="10.00" height="14.00" fill="#cbbfae"/>
<rect x="974.50" y="435.00" width="4.00" height="2.00" fill="#6a5a48"/>
<rect x="974.50" y="443.50" width="4.00" height="2.00" fill="#6a5a48"/>
<text transform="translate(950.00,408.00) rotate(0) scale(-1,1)" x="-8.00" y="0" font-family="Liberation Sans" font-weight="normal" font-size="6.00" fill="#8fa3d4" textLength="8.0" lengthAdjust="spacingAndGlyphs">S2</text>
<text transform="translate(968.00,408.00) rotate(0) scale(-1,1)" x="-8.00" y="0" font-family="Liberation Sans" font-weight="normal" font-size="6.00" fill="#8fa3d4" textLength="8.0" lengthAdjust="spacingAndGlyphs">S1</text>
<rect x="913.00" y="410.50" width="7.00" height="1.50" fill="#a3abc4"/>
<rect x="941.50" y="410.50" width="7.00" height="1.50" fill="#a3abc4"/>
<rect x="913.00" y="413.45" width="7.00" height="1.50" fill="#a3abc4"/>
<rect x="941.50" y="413.45" width="7.00" height="1.50" fill="#a3abc4"/>
<rect x="913.00" y="416.40" width="7.00" height="1.50" fill="#a3abc4"/>
<rect x="941.50" y="416.40" width="7.00" height="1.50" fill="#a3abc4"/>
<rect x="913.00" y="419.35" width="7.00" height="1.50" fill="#a3abc4"/>
<rect x="941.50" y="419.35" width="7.00" height="1.50" fill="#a3abc4"/>
<rect x="913.00" y="422.30" width="7.00" height="1.50" fill="#a3abc4"/>
<rect x="941.50" y="422.30" width="7.00" height="1.50" fill="#a3abc4"/>
<rect x="913.00" y="425.25" width="7.00" height="1.50" fill="#a3abc4"/>
<rect x="941.50" y="425.25" width="7.00" height="1.50" fill="#a3abc4"/>
<rect x="913.00" y="428.20" width="7.00" height="1.50" fill="#a3abc4"/>
<rect x="941.50" y="428.20" width="7.00" height="1.50" fill="#a3abc4"/>
<rect x="913.00" y="431.15" width="7.00" height="1.50" fill="#a3abc4"/>
<rect x="941.50" y="431.15" width="7.00" height="1.50" fill="#a3abc4"/>
<rect x="913.00" y="434.10" width="7.00" height="1.50" fill="#a3abc4"/>
<rect x="941.50" y="434.10" width="7.00" height="1.50" fill="#a3abc4"/>
<rect x="913.00" y="437.05" width="7.00" height="1.50" fill="#a3abc4"/>
<rect x="941.50" y="437.05" width="7.00" height="1.50" fill="#a3abc4"/>
<rect x="913.00" y="440.00" width="7.00" height="1.50" fill="#a3abc4"/>
<rect x="941.50" y="440.00" width="7.00" height="1.50" fill="#a3abc4"/>
<rect x="919.50" y="409.50" width="23.00" height="34.00" fill="#222226"/>
<circle cx="935.00" cy="459.20" r="13.30" fill="#1a1a1e"/>
<circle cx="937.20" cy="459.20" r="12.40" fill="#c4c4ca"/>
<circle cx="937.80" cy="459.20" r="9.00" fill="#d2d2d8"/>
<text transform="translate(941.00,452.00) rotate(90) scale(-1,1)" x="-12.00" y="0" font-family="Liberation Sans" font-weight="normal" font-size="5.00" fill="#666" textLength="12.0" lengthAdjust="spacingAndGlyphs">16V</text>
<rect x="914.50" y="455.50" width="4.00" height="6.00" fill="#c8c8cc"/>
<rect x="952.00" y="452.80" width="1.30" height="4.80" fill="#b8c0d8"/>
<rect x="952.00" y="482.40" width="1.30" height="5.60" fill="#b8c0d8"/>
<rect x="954.30" y="452.80" width="1.30" height="4.80" fill="#b8c0d8"/>
<rect x="954.30" y="482.40" width="1.30" height="5.60" fill="#b8c0d8"/>
<rect x="956.60" y="452.80" width="1.30" height="4.80" fill="#b8c0d8"/>
<rect x="956.60" y="482.40" width="1.30" height="5.60" fill="#b8c0d8"/>
<rect x="958.90" y="452.80" width="1.30" height="4.80" fill="#b8c0d8"/>
<rect x="958.90" y="482.40" width="1.30" height="5.60" fill="#b8c0d8"/>
<rect x="961.20" y="452.80" width="1.30" height="4.80" fill="#b8c0d8"/>
<rect x="961.20" y="482.40" width="1.30" height="5.60" fill="#b8c0d8"/>
<rect x="963.50" y="452.80" width="1.30" height="4.80" fill="#b8c0d8"/>
<rect x="963.50" y="482.40" width="1.30" height="5.60" fill="#b8c0d8"/>
<rect x="965.80" y="452.80" width="1.30" height="4.80" fill="#b8c0d8"/>
<rect x="965.80" y="482.40" width="1.30" height="5.60" fill="#b8c0d8"/>
<rect x="968.10" y="452.80" width="1.30" height="4.80" fill="#b8c0d8"/>
<rect x="968.10" y="482.40" width="1.30" height="5.60" fill="#b8c0d8"/>
<rect x="970.40" y="452.80" width="1.30" height="4.80" fill="#b8c0d8"/>
<rect x="970.40" y="482.40" width="1.30" height="5.60" fill="#b8c0d8"/>
<rect x="972.70" y="452.80" width="1.30" height="4.80" fill="#b8c0d8"/>
<rect x="972.70" y="482.40" width="1.30" height="5.60" fill="#b8c0d8"/>
<rect x="975.00" y="452.80" width="1.30" height="4.80" fill="#b8c0d8"/>
<rect x="975.00" y="482.40" width="1.30" height="5.60" fill="#b8c0d8"/>
<rect x="977.30" y="452.80" width="1.30" height="4.80" fill="#b8c0d8"/>
<rect x="977.30" y="482.40" width="1.30" height="5.60" fill="#b8c0d8"/>
<rect x="979.60" y="452.80" width="1.30" height="4.80" fill="#b8c0d8"/>
<rect x="979.60" y="482.40" width="1.30" height="5.60" fill="#b8c0d8"/>
<rect x="951.00" y="457.60" width="31.00" height="24.80" fill="#242428"/>
<rect x="954.00" y="461.00" width="25.00" height="18.00" fill="#2c2c30"/>
<rect x="903.60" y="470.00" width="2.00" height="1.80" fill="#a6b6de"/>
<rect x="907.40" y="470.00" width="2.00" height="1.80" fill="#98a8d4"/>
<rect x="903.60" y="474.20" width="2.00" height="1.80" fill="#a6b6de"/>
<rect x="907.40" y="474.20" width="2.00" height="1.80" fill="#98a8d4"/>
<rect x="903.60" y="478.40" width="2.00" height="1.80" fill="#a6b6de"/>
<rect x="907.40" y="478.40" width="2.00" height="1.80" fill="#98a8d4"/>
<rect x="903.60" y="482.60" width="2.00" height="1.80" fill="#a6b6de"/>
<rect x="907.40" y="482.60" width="2.00" height="1.80" fill="#98a8d4"/>
<rect x="903.60" y="486.80" width="2.00" height="1.80" fill="#a6b6de"/>
<rect x="907.40" y="486.80" width="2.00" height="1.80" fill="#98a8d4"/>
<rect x="903.60" y="491.00" width="2.00" height="1.80" fill="#a6b6de"/>
<rect x="907.40" y="491.00" width="2.00" height="1.80" fill="#98a8d4"/>
<rect x="903.60" y="495.20" width="2.00" height="1.80" fill="#a6b6de"/>
<rect x="907.40" y="495.20" width="2.00" height="1.80" fill="#98a8d4"/>
<rect x="903.60" y="499.40" width="2.00" height="1.80" fill="#a6b6de"/>
<rect x="907.40" y="499.40" width="2.00" height="1.80" fill="#98a8d4"/>
<rect x="903.60" y="503.60" width="2.00" height="1.80" fill="#a6b6de"/>
<rect x="907.40" y="503.60" width="2.00" height="1.80" fill="#98a8d4"/>
<rect x="903.60" y="507.80" width="2.00" height="1.80" fill="#a6b6de"/>
<rect x="907.40" y="507.80" width="2.00" height="1.80" fill="#98a8d4"/>
<rect x="903.60" y="512.00" width="2.00" height="1.80" fill="#a6b6de"/>
<rect x="907.40" y="512.00" width="2.00" height="1.80" fill="#98a8d4"/>
<rect x="903.60" y="516.20" width="2.00" height="1.80" fill="#a6b6de"/>
<rect x="907.40" y="516.20" width="2.00" height="1.80" fill="#98a8d4"/>
<rect x="903.60" y="520.40" width="2.00" height="1.80" fill="#a6b6de"/>
<rect x="907.40" y="520.40" width="2.00" height="1.80" fill="#98a8d4"/>
<rect x="903.60" y="524.60" width="2.00" height="1.80" fill="#a6b6de"/>
<rect x="907.40" y="524.60" width="2.00" height="1.80" fill="#98a8d4"/>
<rect x="903.60" y="528.80" width="2.00" height="1.80" fill="#a6b6de"/>
<rect x="907.40" y="528.80" width="2.00" height="1.80" fill="#98a8d4"/>
<rect x="903.60" y="533.00" width="2.00" height="1.80" fill="#a6b6de"/>
<rect x="907.40" y="533.00" width="2.00" height="1.80" fill="#98a8d4"/>
<rect x="903.60" y="537.20" width="2.00" height="1.80" fill="#a6b6de"/>
<rect x="907.40" y="537.20" width="2.00" height="1.80" fill="#98a8d4"/>
<rect x="903.60" y="541.40" width="2.00" height="1.80" fill="#a6b6de"/>
<rect x="907.40" y="541.40" width="2.00" height="1.80" fill="#98a8d4"/>
<rect x="903.60" y="545.60" width="2.00" height="1.80" fill="#a6b6de"/>
<rect x="907.40" y="545.60" width="2.00" height="1.80" fill="#98a8d4"/>
<rect x="903.60" y="549.80" width="2.00" height="1.80" fill="#a6b6de"/>
<rect x="907.40" y="549.80" width="2.00" height="1.80" fill="#98a8d4"/>
<rect x="903.60" y="554.00" width="2.00" height="1.80" fill="#a6b6de"/>
<rect x="907.40" y="554.00" width="2.00" height="1.80" fill="#98a8d4"/>
<text transform="translate(906.00,428.00) rotate(90) scale(-1,1)" x="-10.00" y="0" font-family="Liberation Sans" font-weight="normal" font-size="7.00" fill="#8fa3d4" textLength="10.0" lengthAdjust="spacingAndGlyphs">OC</text>
<text transform="translate(906.00,443.00) rotate(90) scale(-1,1)" x="-9.00" y="0" font-family="Liberation Sans" font-weight="normal" font-size="7.00" fill="#8fa3d4" textLength="9.0" lengthAdjust="spacingAndGlyphs">G5</text>
<rect x="914.40" y="475.70" width="33.00" height="83.50" fill="#1c1c20" rx="1.50"/>
<rect x="916.00" y="477.30" width="30.00" height="8.60" fill="#2a2a2f" rx="3.00"/>
<rect x="917.00" y="477.90" width="28.00" height="2.20" fill="#38383e" rx="1.00"/>
<circle cx="927.80" cy="481.30" r="1.20" fill="#e2e2ea"/>
<circle cx="937.40" cy="481.30" r="1.20" fill="#e2e2ea"/>
<rect x="916.00" y="487.60" width="30.00" height="8.60" fill="#2a2a2f" rx="3.00"/>
<rect x="917.00" y="488.20" width="28.00" height="2.20" fill="#38383e" rx="1.00"/>
<circle cx="927.80" cy="491.60" r="1.20" fill="#e2e2ea"/>
<circle cx="937.40" cy="491.60" r="1.20" fill="#e2e2ea"/>
<rect x="916.00" y="497.90" width="30.00" height="8.60" fill="#2a2a2f" rx="3.00"/>
<rect x="917.00" y="498.50" width="28.00" height="2.20" fill="#38383e" rx="1.00"/>
<circle cx="927.80" cy="501.90" r="1.20" fill="#e2e2ea"/>
<circle cx="937.40" cy="501.90" r="1.20" fill="#e2e2ea"/>
<rect x="916.00" y="508.20" width="30.00" height="8.60" fill="#2a2a2f" rx="3.00"/>
<rect x="917.00" y="508.80" width="28.00" height="2.20" fill="#38383e" rx="1.00"/>
<circle cx="927.80" cy="512.20" r="1.20" fill="#e2e2ea"/>
<circle cx="937.40" cy="512.20" r="1.20" fill="#e2e2ea"/>
<rect x="916.00" y="518.50" width="30.00" height="8.60" fill="#2a2a2f" rx="3.00"/>
<rect x="917.00" y="519.10" width="28.00" height="2.20" fill="#38383e" rx="1.00"/>
<circle cx="927.80" cy="522.50" r="1.20" fill="#e2e2ea"/>
<circle cx="937.40" cy="522.50" r="1.20" fill="#e2e2ea"/>
<rect x="916.00" y="528.80" width="30.00" height="8.60" fill="#2a2a2f" rx="3.00"/>
<rect x="917.00" y="529.40" width="28.00" height="2.20" fill="#38383e" rx="1.00"/>
<circle cx="927.80" cy="532.80" r="1.20" fill="#e2e2ea"/>
<circle cx="937.40" cy="532.80" r="1.20" fill="#e2e2ea"/>
<rect x="916.00" y="539.10" width="30.00" height="8.60" fill="#2a2a2f" rx="3.00"/>
<rect x="917.00" y="539.70" width="28.00" height="2.20" fill="#38383e" rx="1.00"/>
<circle cx="927.80" cy="543.10" r="1.20" fill="#e2e2ea"/>
<circle cx="937.40" cy="543.10" r="1.20" fill="#e2e2ea"/>
<rect x="916.00" y="549.40" width="30.00" height="8.60" fill="#2a2a2f" rx="3.00"/>
<rect x="917.00" y="550.00" width="28.00" height="2.20" fill="#38383e" rx="1.00"/>
<circle cx="927.80" cy="553.40" r="1.20" fill="#e2e2ea"/>
<circle cx="937.40" cy="553.40" r="1.20" fill="#e2e2ea"/>
<text transform="translate(920.00,568.00) rotate(0) scale(-1,1)" x="-6.00" y="0" font-family="Liberation Sans" font-weight="normal" font-size="9.00" fill="#8fa3d4" textLength="6.0" lengthAdjust="spacingAndGlyphs">+</text>
<text transform="translate(934.00,568.00) rotate(0) scale(-1,1)" x="-5.00" y="0" font-family="Liberation Sans" font-weight="normal" font-size="9.00" fill="#8fa3d4" textLength="5.0" lengthAdjust="spacingAndGlyphs">-</text>
<circle cx="917.00" cy="566.00" r="2.00" fill="#c8a860"/>
<rect x="950.50" y="494.00" width="16.00" height="26.00" fill="#ded6ca" stroke="#a39a8e" stroke-width="0.70"/>
<rect x="953.50" y="497.00" width="10.00" height="20.00" fill="#cabfae"/>
<rect x="956.50" y="499.00" width="4.00" height="1.80" fill="#8c7e6c"/>
<rect x="956.50" y="503.80" width="4.00" height="1.80" fill="#8c7e6c"/>
<rect x="956.50" y="508.60" width="4.00" height="1.80" fill="#8c7e6c"/>
<rect x="956.50" y="513.40" width="4.00" height="1.80" fill="#8c7e6c"/>
<rect x="950.50" y="522.00" width="16.00" height="26.00" fill="#ded6ca" stroke="#a39a8e" stroke-width="0.70"/>
<rect x="953.50" y="525.00" width="10.00" height="20.00" fill="#cabfae"/>
<rect x="956.50" y="527.00" width="4.00" height="1.80" fill="#8c7e6c"/>
<rect x="956.50" y="531.80" width="4.00" height="1.80" fill="#8c7e6c"/>
<rect x="956.50" y="536.60" width="4.00" height="1.80" fill="#8c7e6c"/>
<rect x="956.50" y="541.40" width="4.00" height="1.80" fill="#8c7e6c"/>
<rect x="968.00" y="494.00" width="16.00" height="26.00" fill="#ded6ca" stroke="#a39a8e" stroke-width="0.70"/>
<rect x="971.00" y="497.00" width="10.00" height="20.00" fill="#cabfae"/>
<rect x="974.00" y="499.00" width="4.00" height="1.80" fill="#8c7e6c"/>
<rect x="974.00" y="503.80" width="4.00" height="1.80" fill="#8c7e6c"/>
<rect x="974.00" y="508.60" width="4.00" height="1.80" fill="#8c7e6c"/>
<rect x="974.00" y="513.40" width="4.00" height="1.80" fill="#8c7e6c"/>
<rect x="968.00" y="522.00" width="16.00" height="26.00" fill="#ded6ca" stroke="#a39a8e" stroke-width="0.70"/>
<rect x="971.00" y="525.00" width="10.00" height="20.00" fill="#cabfae"/>
<rect x="974.00" y="527.00" width="4.00" height="1.80" fill="#8c7e6c"/>
<rect x="974.00" y="531.80" width="4.00" height="1.80" fill="#8c7e6c"/>
<rect x="974.00" y="536.60" width="4.00" height="1.80" fill="#8c7e6c"/>
<rect x="974.00" y="541.40" width="4.00" height="1.80" fill="#8c7e6c"/>
<rect x="912.00" y="569.00" width="30.70" height="15.00" fill="#cbcbd0" rx="1.50"/>
<rect x="910.00" y="573.00" width="3.00" height="6.00" fill="#a8a8b0"/>
<rect x="919.00" y="573.00" width="17.00" height="6.50" fill="#2a2a2e"/>
<text transform="translate(948.00,580.00) rotate(90) scale(-1,1)" x="-8.00" y="0" font-family="Liberation Sans" font-weight="normal" font-size="6.00" fill="#8fa3d4" textLength="8.0" lengthAdjust="spacingAndGlyphs">SD</text>
<rect x="793.00" y="427.00" width="109.50" height="110.80" fill="#2b2b2f" rx="1.00"/>
<circle cx="896.20" cy="433.80" r="1.90" fill="#5b5b62"/>
<rect x="798.40" y="434.40" width="30.60" height="45.60" fill="#eeeef2" rx="3.00"/>
<rect x="805.60" y="439.20" width="19.20" height="17.40" fill="#f5f5f8"/>
<rect x="805.60" y="439.20" width="1.48" height="1.45" fill="#1e1e1e"/>
<rect x="807.08" y="439.20" width="1.48" height="1.45" fill="#1e1e1e"/>
<rect x="808.55" y="439.20" width="1.48" height="1.45" fill="#1e1e1e"/>
<rect x="811.51" y="439.20" width="1.48" height="1.45" fill="#1e1e1e"/>
<rect x="814.46" y="439.20" width="1.48" height="1.45" fill="#1e1e1e"/>
<rect x="815.94" y="439.20" width="1.48" height="1.45" fill="#1e1e1e"/>
<rect x="818.89" y="439.20" width="1.48" height="1.45" fill="#1e1e1e"/>
<rect x="820.37" y="439.20" width="1.48" height="1.45" fill="#1e1e1e"/>
<rect x="821.85" y="439.20" width="1.48" height="1.45" fill="#1e1e1e"/>
<rect x="823.32" y="439.20" width="1.48" height="1.45" fill="#1e1e1e"/>
<rect x="805.60" y="440.65" width="1.48" height="1.45" fill="#1e1e1e"/>
<rect x="807.08" y="440.65" width="1.48" height="1.45" fill="#1e1e1e"/>
<rect x="810.03" y="440.65" width="1.48" height="1.45" fill="#1e1e1e"/>
<rect x="811.51" y="440.65" width="1.48" height="1.45" fill="#1e1e1e"/>
<rect x="817.42" y="440.65" width="1.48" height="1.45" fill="#1e1e1e"/>
<rect x="820.37" y="440.65" width="1.48" height="1.45" fill="#1e1e1e"/>
<rect x="823.32" y="440.65" width="1.48" height="1.45" fill="#1e1e1e"/>
<rect x="805.60" y="442.10" width="1.48" height="1.45" fill="#1e1e1e"/>
<rect x="807.08" y="442.10" width="1.48" height="1.45" fill="#1e1e1e"/>
<rect x="808.55" y="442.10" width="1.48" height="1.45" fill="#1e1e1e"/>
<rect x="810.03" y="442.10" width="1.48" height="1.45" fill="#1e1e1e"/>
<rect x="812.99" y="442.10" width="1.48" height="1.45" fill="#1e1e1e"/>
<rect x="817.42" y="442.10" width="1.48" height="1.45" fill="#1e1e1e"/>
<rect x="820.37" y="442.10" width="1.48" height="1.45" fill="#1e1e1e"/>
<rect x="821.85" y="442.10" width="1.48" height="1.45" fill="#1e1e1e"/>
<rect x="823.32" y="442.10" width="1.48" height="1.45" fill="#1e1e1e"/>
<rect x="805.60" y="443.55" width="1.48" height="1.45" fill="#1e1e1e"/>
<rect x="808.55" y="443.55" width="1.48" height="1.45" fill="#1e1e1e"/>
<rect x="810.03" y="443.55" width="1.48" height="1.45" fill="#1e1e1e"/>
<rect x="812.99" y="443.55" width="1.48" height="1.45" fill="#1e1e1e"/>
<rect x="814.46" y="443.55" width="1.48" height="1.45" fill="#1e1e1e"/>
<rect x="818.89" y="443.55" width="1.48" height="1.45" fill="#1e1e1e"/>
<rect x="805.60" y="445.00" width="1.48" height="1.45" fill="#1e1e1e"/>
<rect x="808.55" y="445.00" width="1.48" height="1.45" fill="#1e1e1e"/>
<rect x="811.51" y="445.00" width="1.48" height="1.45" fill="#1e1e1e"/>
<rect x="812.99" y="445.00" width="1.48" height="1.45" fill="#1e1e1e"/>
<rect x="815.94" y="445.00" width="1.48" height="1.45" fill="#1e1e1e"/>
<rect x="817.42" y="445.00" width="1.48" height="1.45" fill="#1e1e1e"/>
<rect x="818.89" y="445.00" width="1.48" height="1.45" fill="#1e1e1e"/>
<rect x="805.60" y="446.45" width="1.48" height="1.45" fill="#1e1e1e"/>
<rect x="808.55" y="446.45" width="1.48" height="1.45" fill="#1e1e1e"/>
<rect x="814.46" y="446.45" width="1.48" height="1.45" fill="#1e1e1e"/>
<rect x="818.89" y="446.45" width="1.48" height="1.45" fill="#1e1e1e"/>
<rect x="821.85" y="446.45" width="1.48" height="1.45" fill="#1e1e1e"/>
<rect x="805.60" y="447.90" width="1.48" height="1.45" fill="#1e1e1e"/>
<rect x="811.51" y="447.90" width="1.48" height="1.45" fill="#1e1e1e"/>
<rect x="812.99" y="447.90" width="1.48" height="1.45" fill="#1e1e1e"/>
<rect x="815.94" y="447.90" width="1.48" height="1.45" fill="#1e1e1e"/>
<rect x="817.42" y="447.90" width="1.48" height="1.45" fill="#1e1e1e"/>
<rect x="818.89" y="447.90" width="1.48" height="1.45" fill="#1e1e1e"/>
<rect x="820.37" y="447.90" width="1.48" height="1.45" fill="#1e1e1e"/>
<rect x="821.85" y="447.90" width="1.48" height="1.45" fill="#1e1e1e"/>
<rect x="805.60" y="449.35" width="1.48" height="1.45" fill="#1e1e1e"/>
<rect x="807.08" y="449.35" width="1.48" height="1.45" fill="#1e1e1e"/>
<rect x="808.55" y="449.35" width="1.48" height="1.45" fill="#1e1e1e"/>
<rect x="810.03" y="449.35" width="1.48" height="1.45" fill="#1e1e1e"/>
<rect x="812.99" y="449.35" width="1.48" height="1.45" fill="#1e1e1e"/>
<rect x="814.46" y="449.35" width="1.48" height="1.45" fill="#1e1e1e"/>
<rect x="821.85" y="449.35" width="1.48" height="1.45" fill="#1e1e1e"/>
<rect x="823.32" y="449.35" width="1.48" height="1.45" fill="#1e1e1e"/>
<rect x="805.60" y="450.80" width="1.48" height="1.45" fill="#1e1e1e"/>
<rect x="807.08" y="450.80" width="1.48" height="1.45" fill="#1e1e1e"/>
<rect x="811.51" y="450.80" width="1.48" height="1.45" fill="#1e1e1e"/>
<rect x="812.99" y="450.80" width="1.48" height="1.45" fill="#1e1e1e"/>
<rect x="814.46" y="450.80" width="1.48" height="1.45" fill="#1e1e1e"/>
<rect x="815.94" y="450.80" width="1.48" height="1.45" fill="#1e1e1e"/>
<rect x="817.42" y="450.80" width="1.48" height="1.45" fill="#1e1e1e"/>
<rect x="820.37" y="450.80" width="1.48" height="1.45" fill="#1e1e1e"/>
<rect x="821.85" y="450.80" width="1.48" height="1.45" fill="#1e1e1e"/>
<rect x="823.32" y="450.80" width="1.48" height="1.45" fill="#1e1e1e"/>
<rect x="805.60" y="452.25" width="1.48" height="1.45" fill="#1e1e1e"/>
<rect x="807.08" y="452.25" width="1.48" height="1.45" fill="#1e1e1e"/>
<rect x="817.42" y="452.25" width="1.48" height="1.45" fill="#1e1e1e"/>
<rect x="805.60" y="453.70" width="1.48" height="1.45" fill="#1e1e1e"/>
<rect x="807.08" y="453.70" width="1.48" height="1.45" fill="#1e1e1e"/>
<rect x="808.55" y="453.70" width="1.48" height="1.45" fill="#1e1e1e"/>
<rect x="810.03" y="453.70" width="1.48" height="1.45" fill="#1e1e1e"/>
<rect x="812.99" y="453.70" width="1.48" height="1.45" fill="#1e1e1e"/>
<rect x="814.46" y="453.70" width="1.48" height="1.45" fill="#1e1e1e"/>
<rect x="815.94" y="453.70" width="1.48" height="1.45" fill="#1e1e1e"/>
<rect x="817.42" y="453.70" width="1.48" height="1.45" fill="#1e1e1e"/>
<rect x="818.89" y="453.70" width="1.48" height="1.45" fill="#1e1e1e"/>
<rect x="820.37" y="453.70" width="1.48" height="1.45" fill="#1e1e1e"/>
<rect x="821.85" y="453.70" width="1.48" height="1.45" fill="#1e1e1e"/>
<rect x="823.32" y="453.70" width="1.48" height="1.45" fill="#1e1e1e"/>
<rect x="805.60" y="455.15" width="1.48" height="1.45" fill="#1e1e1e"/>
<rect x="807.08" y="455.15" width="1.48" height="1.45" fill="#1e1e1e"/>
<rect x="808.55" y="455.15" width="1.48" height="1.45" fill="#1e1e1e"/>
<rect x="810.03" y="455.15" width="1.48" height="1.45" fill="#1e1e1e"/>
<rect x="811.51" y="455.15" width="1.48" height="1.45" fill="#1e1e1e"/>
<rect x="812.99" y="455.15" width="1.48" height="1.45" fill="#1e1e1e"/>
<rect x="814.46" y="455.15" width="1.48" height="1.45" fill="#1e1e1e"/>
<rect x="815.94" y="455.15" width="1.48" height="1.45" fill="#1e1e1e"/>
<rect x="817.42" y="455.15" width="1.48" height="1.45" fill="#1e1e1e"/>
<rect x="818.89" y="455.15" width="1.48" height="1.45" fill="#1e1e1e"/>
<rect x="820.37" y="455.15" width="1.48" height="1.45" fill="#1e1e1e"/>
<rect x="821.85" y="455.15" width="1.48" height="1.45" fill="#1e1e1e"/>
<rect x="823.32" y="455.15" width="1.48" height="1.45" fill="#1e1e1e"/>
<rect x="809.00" y="460.80" width="1.60" height="1.40" fill="#3e3e44"/>
<rect x="809.00" y="462.60" width="1.60" height="1.40" fill="#3e3e44"/>
<rect x="809.00" y="464.40" width="1.60" height="1.40" fill="#3e3e44"/>
<rect x="809.00" y="468.00" width="1.60" height="1.40" fill="#3e3e44"/>
<rect x="809.00" y="469.80" width="1.60" height="1.40" fill="#3e3e44"/>
<rect x="809.00" y="471.60" width="1.60" height="1.40" fill="#3e3e44"/>
<rect x="809.00" y="473.40" width="1.60" height="1.40" fill="#3e3e44"/>
<rect x="814.20" y="464.00" width="1.60" height="1.40" fill="#3e3e44"/>
<rect x="814.20" y="465.80" width="1.60" height="1.40" fill="#3e3e44"/>
<rect x="814.20" y="471.20" width="1.60" height="1.40" fill="#3e3e44"/>
<rect x="819.40" y="462.00" width="1.60" height="1.40" fill="#3e3e44"/>
<rect x="819.40" y="463.80" width="1.60" height="1.40" fill="#3e3e44"/>
<rect x="819.40" y="465.60" width="1.60" height="1.40" fill="#3e3e44"/>
<rect x="819.40" y="467.40" width="1.60" height="1.40" fill="#3e3e44"/>
<rect x="819.40" y="469.20" width="1.60" height="1.40" fill="#3e3e44"/>
<rect x="819.40" y="472.80" width="1.60" height="1.40" fill="#3e3e44"/>
<rect x="876.40" y="464.40" width="20.40" height="15.60" fill="#46464c" rx="2.00"/>
<text transform="translate(894,477.5) scale(-1,1)" font-family="Liberation Sans" font-size="14" fill="#77777e" textLength="16" lengthAdjust="spacingAndGlyphs">ov8</text>
<text transform="translate(839.00,477.00) rotate(0) scale(-1,1)" x="-34.00" y="0" font-family="Liberation Sans" font-weight="bold" font-size="7.50" fill="#77777e" textLength="34.0" lengthAdjust="spacingAndGlyphs">OCTAVO</text>
<text transform="translate(849.00,481.00) rotate(0) scale(-1,1)" x="-22.00" y="0" font-family="Liberation Sans" font-weight="normal" font-size="2.50" fill="#66666c" textLength="22.0" lengthAdjust="spacingAndGlyphs">SYSTEMS</text>
<text transform="translate(800.80,490.80) rotate(0) scale(-1,1)" x="-97.00" y="0" font-family="Liberation Mono" font-weight="normal" font-size="8.50" fill="#4d4d53" textLength="97.0" lengthAdjust="spacingAndGlyphs">OSD3358-512M-BAS-XB</text>
<rect x="799.60" y="494.40" width="93.00" height="41.40" fill="#efeff3"/>
<g stroke-width="0.6">
<text transform="translate(808.60,516.00) rotate(0) scale(-1,1)" x="-36.00" y="0" font-family="Liberation Sans" font-weight="bold" font-size="11.50" fill="#8a4a1c" textLength="36.0" lengthAdjust="spacingAndGlyphs">board.org</text>
<text transform="translate(845.50,516.00) rotate(0) scale(-1,1)" x="-28.50" y="0" font-family="Liberation Sans" font-weight="bold" font-size="11.50" fill="#1e1a18" textLength="28.5" lengthAdjust="spacingAndGlyphs">beagle</text>
</g>
<path d="M880,503.5 q6,-1 8,5 q1,5 -1,9 h-3 l-1,-3 l-2,3 h-3 q-2,-4 -1,-7 q-2,-1 -1,-3 z" fill="#f4f2ee" stroke="#222" stroke-width="0.9"/>
<path d="M884,504 q4,1 4,5 q0,4 -2,6 q-2,-3 -2,-6 z" fill="#c08a30"/>
<path d="M879.5,506 q-2,1 -1.5,3 l2,0 z" fill="#222"/>
<circle cx="806.80" cy="505.80" r="1.60" fill="none" stroke="#777" stroke-width="0.60"/>
<text transform="translate(823.00,526.20) rotate(0) scale(-1,1)" x="-48.00" y="0" font-family="Liberation Sans" font-weight="normal" font-size="7.00" fill="#3c4aa8" textLength="48.0" lengthAdjust="spacingAndGlyphs">BeagleBone Blue</text>
<rect x="657.80" y="462.30" width="54.60" height="54.60" fill="#2f3a30"/>
<rect x="659.20" y="463.70" width="51.80" height="51.80" fill="#77746b"/>
<rect x="676.00" y="466.80" width="2.40" height="2.20" fill="#9c998e"/>
<rect x="682.40" y="466.80" width="2.40" height="2.20" fill="#9c998e"/>
<rect x="685.60" y="466.80" width="2.40" height="2.20" fill="#9c998e"/>
<rect x="688.80" y="466.80" width="2.40" height="2.20" fill="#9c998e"/>
<rect x="692.00" y="466.80" width="2.40" height="2.20" fill="#9c998e"/>
<rect x="695.20" y="466.80" width="2.40" height="2.20" fill="#9c998e"/>
<rect x="704.80" y="466.80" width="2.40" height="2.20" fill="#9c998e"/>
<rect x="681.00" y="471.20" width="2.40" height="2.20" fill="#9c998e"/>
<rect x="684.20" y="471.20" width="2.40" height="2.20" fill="#9c998e"/>
<rect x="687.40" y="471.20" width="2.40" height="2.20" fill="#9c998e"/>
<rect x="690.60" y="471.20" width="2.40" height="2.20" fill="#9c998e"/>
<rect x="693.80" y="471.20" width="2.40" height="2.20" fill="#9c998e"/>
<rect x="697.00" y="471.20" width="2.40" height="2.20" fill="#9c998e"/>
<rect x="700.20" y="471.20" width="2.40" height="2.20" fill="#9c998e"/>
<rect x="703.40" y="471.20" width="2.40" height="2.20" fill="#9c998e"/>
<rect x="683.00" y="475.60" width="2.40" height="2.20" fill="#9c998e"/>
<rect x="686.20" y="475.60" width="2.40" height="2.20" fill="#9c998e"/>
<rect x="689.40" y="475.60" width="2.40" height="2.20" fill="#9c998e"/>
<rect x="692.60" y="475.60" width="2.40" height="2.20" fill="#9c998e"/>
<rect x="695.80" y="475.60" width="2.40" height="2.20" fill="#9c998e"/>
<rect x="699.00" y="475.60" width="2.40" height="2.20" fill="#9c998e"/>
<rect x="702.20" y="475.60" width="2.40" height="2.20" fill="#9c998e"/>
<rect x="671.00" y="480.00" width="2.40" height="2.20" fill="#9c998e"/>
<rect x="674.20" y="480.00" width="2.40" height="2.20" fill="#9c998e"/>
<rect x="680.60" y="480.00" width="2.40" height="2.20" fill="#9c998e"/>
<rect x="693.40" y="480.00" width="2.40" height="2.20" fill="#9c998e"/>
<rect x="696.60" y="480.00" width="2.40" height="2.20" fill="#9c998e"/>
<rect x="699.80" y="480.00" width="2.40" height="2.20" fill="#9c998e"/>
<rect x="703.00" y="480.00" width="2.40" height="2.20" fill="#9c998e"/>
<rect x="677.00" y="484.40" width="2.40" height="2.20" fill="#9c998e"/>
<rect x="680.20" y="484.40" width="2.40" height="2.20" fill="#9c998e"/>
<rect x="689.80" y="484.40" width="2.40" height="2.20" fill="#9c998e"/>
<rect x="693.00" y="484.40" width="2.40" height="2.20" fill="#9c998e"/>
<rect x="681.00" y="488.80" width="2.40" height="2.20" fill="#9c998e"/>
<rect x="684.20" y="488.80" width="2.40" height="2.20" fill="#9c998e"/>
<rect x="687.40" y="488.80" width="2.40" height="2.20" fill="#9c998e"/>
<rect x="693.80" y="488.80" width="2.40" height="2.20" fill="#9c998e"/>
<path d="M664,500 a7,7 0 0 1 0,12 M672,500 a8,8 0 0 1 0,12 M690,508 l4,-5 l4,5 l4,-5 l4,5" stroke="#8e8b80" stroke-width="1" fill="none"/>
<rect x="713.40" y="468.20" width="2.60" height="2.20" fill="#d8e0f0"/>
<rect x="718.80" y="468.20" width="2.40" height="2.20" fill="#c4d0ec"/>
<rect x="713.40" y="472.40" width="2.60" height="2.20" fill="#d8e0f0"/>
<rect x="718.80" y="472.40" width="2.40" height="2.20" fill="#c4d0ec"/>
<rect x="713.40" y="476.60" width="2.60" height="2.20" fill="#d8e0f0"/>
<rect x="718.80" y="476.60" width="2.40" height="2.20" fill="#c4d0ec"/>
<rect x="713.40" y="480.80" width="2.60" height="2.20" fill="#d8e0f0"/>
<rect x="718.80" y="480.80" width="2.40" height="2.20" fill="#c4d0ec"/>
<rect x="713.40" y="485.00" width="2.60" height="2.20" fill="#d8e0f0"/>
<rect x="718.80" y="485.00" width="2.40" height="2.20" fill="#c4d0ec"/>
<rect x="713.40" y="489.20" width="2.60" height="2.20" fill="#d8e0f0"/>
<rect x="718.80" y="489.20" width="2.40" height="2.20" fill="#c4d0ec"/>
<rect x="713.40" y="493.40" width="2.60" height="2.20" fill="#d8e0f0"/>
<rect x="718.80" y="493.40" width="2.40" height="2.20" fill="#c4d0ec"/>
<rect x="713.40" y="497.60" width="2.60" height="2.20" fill="#d8e0f0"/>
<rect x="718.80" y="497.60" width="2.40" height="2.20" fill="#c4d0ec"/>
<text transform="translate(645.00,455.00) rotate(90) scale(-1,1)" x="-18.00" y="0" font-family="Liberation Sans" font-weight="normal" font-size="6.00" fill="#8fa3d4" textLength="18.0" lengthAdjust="spacingAndGlyphs">ANT1</text>
<text transform="translate(645.00,520.00) rotate(90) scale(-1,1)" x="-18.00" y="0" font-family="Liberation Sans" font-weight="normal" font-size="6.00" fill="#8fa3d4" textLength="18.0" lengthAdjust="spacingAndGlyphs">STAT</text>
<text transform="translate(652.00,494.00) rotate(90) scale(-1,1)" x="-12.00" y="0" font-family="Liberation Sans" font-weight="normal" font-size="5.00" fill="#8fa3d4" textLength="12.0" lengthAdjust="spacingAndGlyphs">C49</text>
<path d="M684,450.8 Q740,458.5 793,453.4" stroke="#9ea6b8" stroke-width="1.3" fill="none"/>
<path d="M684,533.8 L793,536.6" stroke="#9ea6b8" stroke-width="1.3" fill="none"/>
<path d="M655,444.0 h15 q4.5,0 4.5,4 q0,4 -4.5,4 h-15 z" fill="#c4ac7a" stroke="#8c7a52" stroke-width="0.7"/>
<circle cx="655.00" cy="448.00" r="5.80" fill="#c9b07c" stroke="#8c7a52" stroke-width="0.70"/>
<circle cx="655.00" cy="448.00" r="3.00" fill="#b09662"/>
<rect x="660.00" y="445.50" width="12.00" height="1.20" fill="#e2d2a8"/>
<path d="M655,528.0 h15 q4.5,0 4.5,4 q0,4 -4.5,4 h-15 z" fill="#c4ac7a" stroke="#8c7a52" stroke-width="0.7"/>
<circle cx="655.00" cy="532.00" r="5.80" fill="#c9b07c" stroke="#8c7a52" stroke-width="0.70"/>
<circle cx="655.00" cy="532.00" r="3.00" fill="#b09662"/>
<rect x="660.00" y="529.50" width="12.00" height="1.20" fill="#e2d2a8"/>
<rect x="675.50" y="447.50" width="9.50" height="5.50" fill="#18181c"/>
<rect x="675.50" y="441.00" width="10.00" height="5.50" fill="#bdb3ad"/>
<rect x="699.00" y="450.50" width="10.00" height="9.50" fill="#c9c4c0"/>
<rect x="701.00" y="452.00" width="6.00" height="6.50" fill="#8b8480"/>
<rect x="675.50" y="531.00" width="9.00" height="5.00" fill="#18181c"/>
<rect x="694.00" y="454.00" width="5.00" height="6.00" fill="#e6e6ee"/>
<rect x="687.00" y="456.00" width="5.00" height="4.00" fill="#dcdce4"/>
<rect x="724.00" y="474.00" width="16.00" height="18.00" fill="#2d2a30"/>
<rect x="726.00" y="476.00" width="12.00" height="14.00" fill="#3a3236"/>
<rect x="749.00" y="468.00" width="16.00" height="15.00" fill="#2e2e36"/>
<rect x="770.60" y="473.00" width="14.00" height="23.00" fill="#3a3230"/>
<rect x="772.00" y="475.00" width="11.00" height="19.00" fill="#453b38"/>
<rect x="771.00" y="472.50" width="13.00" height="1.50" fill="#c8ccd8"/>
<rect x="774.00" y="457.00" width="8.00" height="14.00" fill="#d6d0ca"/>
<rect x="775.50" y="459.00" width="5.00" height="10.00" fill="#a89c94"/>
<rect x="785.00" y="458.00" width="2.00" height="2.00" fill="#d0d8ee"/>
<rect x="789.00" y="460.00" width="2.00" height="2.00" fill="#b8c4e4"/>
<rect x="785.00" y="462.50" width="2.00" height="2.00" fill="#d0d8ee"/>
<rect x="789.00" y="464.50" width="2.00" height="2.00" fill="#b8c4e4"/>
<rect x="785.00" y="467.00" width="2.00" height="2.00" fill="#d0d8ee"/>
<rect x="789.00" y="469.00" width="2.00" height="2.00" fill="#b8c4e4"/>
<rect x="785.00" y="471.50" width="2.00" height="2.00" fill="#d0d8ee"/>
<rect x="789.00" y="473.50" width="2.00" height="2.00" fill="#b8c4e4"/>
<rect x="785.00" y="476.00" width="2.00" height="2.00" fill="#d0d8ee"/>
<rect x="789.00" y="478.00" width="2.00" height="2.00" fill="#b8c4e4"/>
<rect x="785.00" y="480.50" width="2.00" height="2.00" fill="#d0d8ee"/>
<rect x="789.00" y="482.50" width="2.00" height="2.00" fill="#b8c4e4"/>
<rect x="785.00" y="485.00" width="2.00" height="2.00" fill="#d0d8ee"/>
<rect x="789.00" y="487.00" width="2.00" height="2.00" fill="#b8c4e4"/>
<rect x="785.00" y="489.50" width="2.00" height="2.00" fill="#d0d8ee"/>
<rect x="789.00" y="491.50" width="2.00" height="2.00" fill="#b8c4e4"/>
<rect x="743.00" y="460.00" width="2.40" height="2.00" fill="#d0d8ee"/>
<rect x="747.00" y="462.00" width="2.00" height="2.00" fill="#b8c4e4"/>
<rect x="743.00" y="464.60" width="2.40" height="2.00" fill="#d0d8ee"/>
<rect x="747.00" y="466.60" width="2.00" height="2.00" fill="#b8c4e4"/>
<rect x="743.00" y="469.20" width="2.40" height="2.00" fill="#d0d8ee"/>
<rect x="747.00" y="471.20" width="2.00" height="2.00" fill="#b8c4e4"/>
<rect x="743.00" y="473.80" width="2.40" height="2.00" fill="#d0d8ee"/>
<rect x="747.00" y="475.80" width="2.00" height="2.00" fill="#b8c4e4"/>
<rect x="743.00" y="478.40" width="2.40" height="2.00" fill="#d0d8ee"/>
<rect x="747.00" y="480.40" width="2.00" height="2.00" fill="#b8c4e4"/>
<rect x="743.00" y="483.00" width="2.40" height="2.00" fill="#d0d8ee"/>
<rect x="747.00" y="485.00" width="2.00" height="2.00" fill="#b8c4e4"/>
<rect x="743.00" y="487.60" width="2.40" height="2.00" fill="#d0d8ee"/>
<rect x="747.00" y="489.60" width="2.00" height="2.00" fill="#b8c4e4"/>
<rect x="752.40" y="457.20" width="12.60" height="8.10" fill="#c0b8b4"/>
<rect x="754.50" y="458.50" width="8.40" height="5.50" fill="#8a8280"/>
<path d="M748,491 H768 V510 M768,510 l-2,-4 M768,510 l2,-4" stroke="#c8d0e8" stroke-width="0.9" fill="none"/>
<rect x="748.50" y="515.00" width="2.40" height="2.60" fill="#c6d0ea"/>
<rect x="753.00" y="515.00" width="2.40" height="2.60" fill="#c6d0ea"/>
<rect x="757.50" y="515.00" width="2.40" height="2.60" fill="#c6d0ea"/>
<rect x="762.00" y="515.00" width="2.40" height="2.60" fill="#c6d0ea"/>
<rect x="766.50" y="515.00" width="2.40" height="2.60" fill="#c6d0ea"/>
<rect x="771.00" y="515.00" width="2.40" height="2.60" fill="#c6d0ea"/>
<rect x="775.50" y="515.00" width="2.40" height="2.60" fill="#c6d0ea"/>
<rect x="780.00" y="515.00" width="2.40" height="2.60" fill="#c6d0ea"/>
<rect x="784.50" y="515.00" width="2.40" height="2.60" fill="#c6d0ea"/>
<rect x="789.00" y="515.00" width="2.40" height="2.60" fill="#c6d0ea"/>
<rect x="748.50" y="520.00" width="2.40" height="2.60" fill="#c6d0ea"/>
<rect x="753.00" y="520.00" width="2.40" height="2.60" fill="#c6d0ea"/>
<rect x="757.50" y="520.00" width="2.40" height="2.60" fill="#c6d0ea"/>
<rect x="762.00" y="520.00" width="2.40" height="2.60" fill="#c6d0ea"/>
<rect x="766.50" y="520.00" width="2.40" height="2.60" fill="#c6d0ea"/>
<rect x="771.00" y="520.00" width="2.40" height="2.60" fill="#c6d0ea"/>
<rect x="775.50" y="520.00" width="2.40" height="2.60" fill="#c6d0ea"/>
<rect x="780.00" y="520.00" width="2.40" height="2.60" fill="#c6d0ea"/>
<rect x="784.50" y="520.00" width="2.40" height="2.60" fill="#c6d0ea"/>
<rect x="789.00" y="520.00" width="2.40" height="2.60" fill="#c6d0ea"/>
<rect x="748.50" y="527.00" width="2.40" height="2.60" fill="#c6d0ea"/>
<rect x="753.00" y="527.00" width="2.40" height="2.60" fill="#c6d0ea"/>
<rect x="757.50" y="527.00" width="2.40" height="2.60" fill="#c6d0ea"/>
<rect x="762.00" y="527.00" width="2.40" height="2.60" fill="#c6d0ea"/>
<rect x="766.50" y="527.00" width="2.40" height="2.60" fill="#c6d0ea"/>
<rect x="771.00" y="527.00" width="2.40" height="2.60" fill="#c6d0ea"/>
<rect x="775.50" y="527.00" width="2.40" height="2.60" fill="#c6d0ea"/>
<rect x="780.00" y="527.00" width="2.40" height="2.60" fill="#c6d0ea"/>
<rect x="784.50" y="527.00" width="2.40" height="2.60" fill="#c6d0ea"/>
<rect x="789.00" y="527.00" width="2.40" height="2.60" fill="#c6d0ea"/>
<rect x="748.50" y="532.00" width="2.40" height="2.60" fill="#c6d0ea"/>
<rect x="753.00" y="532.00" width="2.40" height="2.60" fill="#c6d0ea"/>
<rect x="757.50" y="532.00" width="2.40" height="2.60" fill="#c6d0ea"/>
<rect x="762.00" y="532.00" width="2.40" height="2.60" fill="#c6d0ea"/>
<rect x="766.50" y="532.00" width="2.40" height="2.60" fill="#c6d0ea"/>
<rect x="771.00" y="532.00" width="2.40" height="2.60" fill="#c6d0ea"/>
<rect x="775.50" y="532.00" width="2.40" height="2.60" fill="#c6d0ea"/>
<rect x="780.00" y="532.00" width="2.40" height="2.60" fill="#c6d0ea"/>
<rect x="784.50" y="532.00" width="2.40" height="2.60" fill="#c6d0ea"/>
<rect x="789.00" y="532.00" width="2.40" height="2.60" fill="#c6d0ea"/>
<rect x="701.00" y="523.00" width="2.40" height="2.40" fill="#b8c4e4"/>
<rect x="705.20" y="523.00" width="2.40" height="2.40" fill="#b8c4e4"/>
<rect x="709.40" y="523.00" width="2.40" height="2.40" fill="#b8c4e4"/>
<rect x="713.60" y="523.00" width="2.40" height="2.40" fill="#b8c4e4"/>
<rect x="717.80" y="523.00" width="2.40" height="2.40" fill="#b8c4e4"/>
<rect x="701.00" y="532.00" width="2.40" height="2.40" fill="#b8c4e4"/>
<rect x="705.20" y="532.00" width="2.40" height="2.40" fill="#b8c4e4"/>
<rect x="709.40" y="532.00" width="2.40" height="2.40" fill="#b8c4e4"/>
<rect x="713.60" y="532.00" width="2.40" height="2.40" fill="#b8c4e4"/>
<rect x="717.80" y="532.00" width="2.40" height="2.40" fill="#b8c4e4"/>
<rect x="728.50" y="524.50" width="9.50" height="9.50" fill="#26262c"/>
<rect x="729.50" y="521.50" width="1.80" height="2.60" fill="#d8e0f2"/>
<rect x="732.70" y="521.50" width="1.80" height="2.60" fill="#d8e0f2"/>
<rect x="735.90" y="521.50" width="1.80" height="2.60" fill="#d8e0f2"/>
<rect x="716.50" y="500.00" width="3.00" height="2.00" fill="#9fb0da"/>
<rect x="721.50" y="500.00" width="2.50" height="2.00" fill="#8fa3d4"/>
<rect x="716.50" y="503.80" width="3.00" height="2.00" fill="#9fb0da"/>
<rect x="721.50" y="503.80" width="2.50" height="2.00" fill="#8fa3d4"/>
<rect x="716.50" y="507.60" width="3.00" height="2.00" fill="#9fb0da"/>
<rect x="721.50" y="507.60" width="2.50" height="2.00" fill="#8fa3d4"/>
<rect x="716.50" y="511.40" width="3.00" height="2.00" fill="#9fb0da"/>
<rect x="721.50" y="511.40" width="2.50" height="2.00" fill="#8fa3d4"/>
<rect x="716.50" y="515.20" width="3.00" height="2.00" fill="#9fb0da"/>
<rect x="721.50" y="515.20" width="2.50" height="2.00" fill="#8fa3d4"/>
<rect x="716.50" y="519.00" width="3.00" height="2.00" fill="#9fb0da"/>
<rect x="721.50" y="519.00" width="2.50" height="2.00" fill="#8fa3d4"/>
<text transform="translate(752.00,497.00) rotate(0) scale(-1,1)" x="-4.00" y="0" font-family="Liberation Sans" font-weight="normal" font-size="5.00" fill="#8fa3d4" textLength="4.0" lengthAdjust="spacingAndGlyphs">Y</text>
<text transform="translate(760.00,503.00) rotate(0) scale(-1,1)" x="-4.00" y="0" font-family="Liberation Sans" font-weight="normal" font-size="5.00" fill="#8fa3d4" textLength="4.0" lengthAdjust="spacingAndGlyphs">X</text>
<rect x="631.20" y="504.20" width="8.20" height="32.00" fill="#a6a6ae" rx="1.00"/>
<rect x="633.20" y="507.00" width="4.20" height="26.00" fill="#5c5c64"/>
<rect x="634.20" y="509.00" width="2.00" height="22.00" fill="#2a2a30"/>
<rect x="625.20" y="546.80" width="62.50" height="37.80" fill="#25263a"/>
<rect x="627.20" y="551.00" width="4.50" height="28.00" fill="#101018" rx="2.00"/>
<rect x="646.80" y="550.00" width="34.20" height="33.70" fill="#b5b5bb" rx="2.00"/>
<rect x="648.00" y="551.00" width="4.00" height="31.50" fill="#d4d4da"/>
<text transform="translate(673.5,552) rotate(90) scale(1,-1)" font-family="Liberation Sans" font-weight="bold" font-size="27" fill="#1a1a1a" textLength="29.5" lengthAdjust="spacingAndGlyphs">12V</text>
<rect x="681.00" y="548.00" width="6.70" height="36.60" fill="#0f0f11"/>
<path d="M662,549 q8,-10 15,0" stroke="#c0a458" stroke-width="2.6" fill="none"/>
<rect x="687.00" y="544.00" width="5.00" height="11.00" fill="#e6e6ec"/>
<rect x="693.00" y="547.70" width="6.00" height="8.00" fill="#c8a878"/>
<rect x="700.50" y="547.70" width="6.00" height="8.00" fill="#c8a878"/>
<rect x="694.50" y="549.00" width="3.00" height="5.00" fill="#8a6a48"/>
<rect x="702.00" y="549.00" width="3.00" height="5.00" fill="#8a6a48"/>
<text transform="translate(690.00,563.00) rotate(0) scale(-1,1)" x="-10.00" y="0" font-family="Liberation Sans" font-weight="normal" font-size="6.00" fill="#8fa3d4" textLength="10.0" lengthAdjust="spacingAndGlyphs">ON</text>
<text transform="translate(650.00,540.00) rotate(0) scale(-1,1)" x="-12.00" y="0" font-family="Liberation Sans" font-weight="normal" font-size="6.00" fill="#8fa3d4" textLength="12.0" lengthAdjust="spacingAndGlyphs">DC</text>
<rect x="755.00" y="545.00" width="4.20" height="9.50" fill="#d9d0c2"/>
<rect x="755.60" y="547.00" width="3.00" height="5.50" fill="#7a6a58"/>
<rect x="761.20" y="545.00" width="4.20" height="9.50" fill="#d9d0c2"/>
<rect x="761.80" y="547.00" width="3.00" height="5.50" fill="#7a6a58"/>
<rect x="767.40" y="545.00" width="4.20" height="9.50" fill="#d9d0c2"/>
<rect x="768.00" y="547.00" width="3.00" height="5.50" fill="#7a6a58"/>
<rect x="773.60" y="545.00" width="4.20" height="9.50" fill="#d9d0c2"/>
<rect x="774.20" y="547.00" width="3.00" height="5.50" fill="#7a6a58"/>
<rect x="779.80" y="545.00" width="4.20" height="9.50" fill="#d9d0c2"/>
<rect x="780.40" y="547.00" width="3.00" height="5.50" fill="#7a6a58"/>
<rect x="753" y="543.5" width="32" height="12.5" fill="none" stroke="#9fb0da" stroke-width="0.7"/>
<rect x="755.50" y="559.00" width="3.00" height="2.00" fill="#c0cce8"/>
<rect x="761.70" y="559.00" width="3.00" height="2.00" fill="#c0cce8"/>
<rect x="767.90" y="559.00" width="3.00" height="2.00" fill="#c0cce8"/>
<rect x="774.10" y="559.00" width="3.00" height="2.00" fill="#c0cce8"/>
<rect x="780.30" y="559.00" width="3.00" height="2.00" fill="#c0cce8"/>
<text transform="translate(769.00,577.50) rotate(0) scale(-1,1)" x="-17.00" y="0" font-family="Liberation Sans" font-weight="normal" font-size="7.00" fill="#8fa3d4" textLength="17.0" lengthAdjust="spacingAndGlyphs">LiPo</text>
<rect x="719.70" y="554.80" width="14.30" height="13.70" fill="#1d1d22"/>
<rect x="712.00" y="544.00" width="2.40" height="2.60" fill="#c8d0e8"/>
<rect x="712.00" y="549.00" width="2.40" height="2.60" fill="#b8c4e4"/>
<rect x="716.20" y="544.00" width="2.40" height="2.60" fill="#c8d0e8"/>
<rect x="716.20" y="549.00" width="2.40" height="2.60" fill="#b8c4e4"/>
<rect x="720.40" y="544.00" width="2.40" height="2.60" fill="#c8d0e8"/>
<rect x="720.40" y="549.00" width="2.40" height="2.60" fill="#b8c4e4"/>
<rect x="724.60" y="544.00" width="2.40" height="2.60" fill="#c8d0e8"/>
<rect x="724.60" y="549.00" width="2.40" height="2.60" fill="#b8c4e4"/>
<rect x="728.80" y="544.00" width="2.40" height="2.60" fill="#c8d0e8"/>
<rect x="728.80" y="549.00" width="2.40" height="2.60" fill="#b8c4e4"/>
<text transform="translate(725.00,574.00) rotate(0) scale(-1,1)" x="-17.00" y="0" font-family="Liberation Sans" font-weight="normal" font-size="4.00" fill="#8fa3d4" textLength="17.0" lengthAdjust="spacingAndGlyphs">C74C76</text>
<text transform="translate(725.00,578.00) rotate(0) scale(-1,1)" x="-15.00" y="0" font-family="Liberation Sans" font-weight="normal" font-size="3.50" fill="#8fa3d4" textLength="15.0" lengthAdjust="spacingAndGlyphs">Res Res</text>
<rect x="788.80" y="543.80" width="29.00" height="41.20" fill="#e4e4ea"/>
<rect x="790.00" y="545.00" width="6.00" height="39.00" fill="#d0d0d8"/>
<rect x="799.00" y="547.00" width="17.00" height="36.00" fill="#f2f2f6"/>
<circle cx="808.00" cy="553.00" r="1.60" fill="#c8c8d0"/>
<circle cx="808.00" cy="563.50" r="1.60" fill="#c8c8d0"/>
<circle cx="808.00" cy="574.00" r="1.60" fill="#c8c8d0"/>
<rect x="829.00" y="551.50" width="2.20" height="5.00" fill="#cfd3df"/>
<rect x="829.00" y="573.00" width="2.20" height="5.00" fill="#cfd3df"/>
<rect x="834.00" y="551.50" width="2.20" height="5.00" fill="#cfd3df"/>
<rect x="834.00" y="573.00" width="2.20" height="5.00" fill="#cfd3df"/>
<rect x="839.00" y="551.50" width="2.20" height="5.00" fill="#cfd3df"/>
<rect x="839.00" y="573.00" width="2.20" height="5.00" fill="#cfd3df"/>
<rect x="844.00" y="551.50" width="2.20" height="5.00" fill="#cfd3df"/>
<rect x="844.00" y="573.00" width="2.20" height="5.00" fill="#cfd3df"/>
<rect x="827.00" y="556.00" width="21.00" height="17.50" fill="#1d1d20"/>
<rect x="854.00" y="551.50" width="2.20" height="5.00" fill="#cfd3df"/>
<rect x="854.00" y="573.00" width="2.20" height="5.00" fill="#cfd3df"/>
<rect x="859.00" y="551.50" width="2.20" height="5.00" fill="#cfd3df"/>
<rect x="859.00" y="573.00" width="2.20" height="5.00" fill="#cfd3df"/>
<rect x="864.00" y="551.50" width="2.20" height="5.00" fill="#cfd3df"/>
<rect x="864.00" y="573.00" width="2.20" height="5.00" fill="#cfd3df"/>
<rect x="869.00" y="551.50" width="2.20" height="5.00" fill="#cfd3df"/>
<rect x="869.00" y="573.00" width="2.20" height="5.00" fill="#cfd3df"/>
<rect x="852.00" y="556.00" width="21.00" height="17.50" fill="#1d1d20"/>
<rect x="875.00" y="557.00" width="14.00" height="17.00" fill="#1a1a1d"/>
<rect x="817.00" y="557.50" width="9.50" height="14.50" fill="#242428"/>
<rect x="828.00" y="540.50" width="9.00" height="6.20" fill="#d8d4d0"/>
<rect x="830.00" y="540.50" width="5.00" height="6.20" fill="#c8a070"/>
<rect x="840.60" y="540.50" width="9.00" height="6.20" fill="#d8d4d0"/>
<rect x="842.60" y="540.50" width="5.00" height="6.20" fill="#c8a070"/>
<rect x="818.40" y="549.00" width="6.00" height="5.00" fill="#c9a878"/>
<text transform="translate(855.60,548.00) rotate(0) scale(-1,1)" x="-15.00" y="0" font-family="Liberation Sans" font-weight="normal" font-size="5.00" fill="#8fa3d4" textLength="15.0" lengthAdjust="spacingAndGlyphs">83BO</text>
<text transform="translate(879.60,553.00) rotate(0) scale(-1,1)" x="-6.00" y="0" font-family="Liberation Sans" font-weight="normal" font-size="5.00" fill="#8fa3d4" textLength="6.0" lengthAdjust="spacingAndGlyphs">G0</text>
<rect x="896.00" y="541.00" width="2.50" height="1.80" fill="#a6b6de"/>
<rect x="896.00" y="545.20" width="2.50" height="1.80" fill="#a6b6de"/>
<rect x="896.00" y="549.40" width="2.50" height="1.80" fill="#a6b6de"/>
<rect x="896.00" y="553.60" width="2.50" height="1.80" fill="#a6b6de"/>
<rect x="896.00" y="557.80" width="2.50" height="1.80" fill="#a6b6de"/>
<rect x="896.00" y="562.00" width="2.50" height="1.80" fill="#a6b6de"/>
<rect x="896.00" y="566.20" width="2.50" height="1.80" fill="#a6b6de"/>
<rect x="896.00" y="570.40" width="2.50" height="1.80" fill="#a6b6de"/>
<rect x="896.00" y="574.60" width="2.50" height="1.80" fill="#a6b6de"/>
<rect x="896.00" y="578.80" width="2.50" height="1.80" fill="#a6b6de"/>
<rect x="893.00" y="540.00" width="1.20" height="2.00" fill="#b0bce0"/>
<rect x="895.00" y="540.00" width="1.20" height="2.00" fill="#b0bce0"/>
<rect x="897.00" y="540.00" width="1.20" height="2.00" fill="#b0bce0"/>
<rect x="899.00" y="540.00" width="1.20" height="2.00" fill="#b0bce0"/>
<rect x="901.00" y="540.00" width="1.20" height="2.00" fill="#b0bce0"/>
<rect x="903.00" y="540.00" width="1.20" height="2.00" fill="#b0bce0"/>
<rect x="905.00" y="540.00" width="1.20" height="2.00" fill="#b0bce0"/>
<rect x="907.00" y="540.00" width="1.20" height="2.00" fill="#b0bce0"/>
<rect x="909.00" y="540.00" width="1.20" height="2.00" fill="#b0bce0"/>
</g>
</svg>
</body></html>
